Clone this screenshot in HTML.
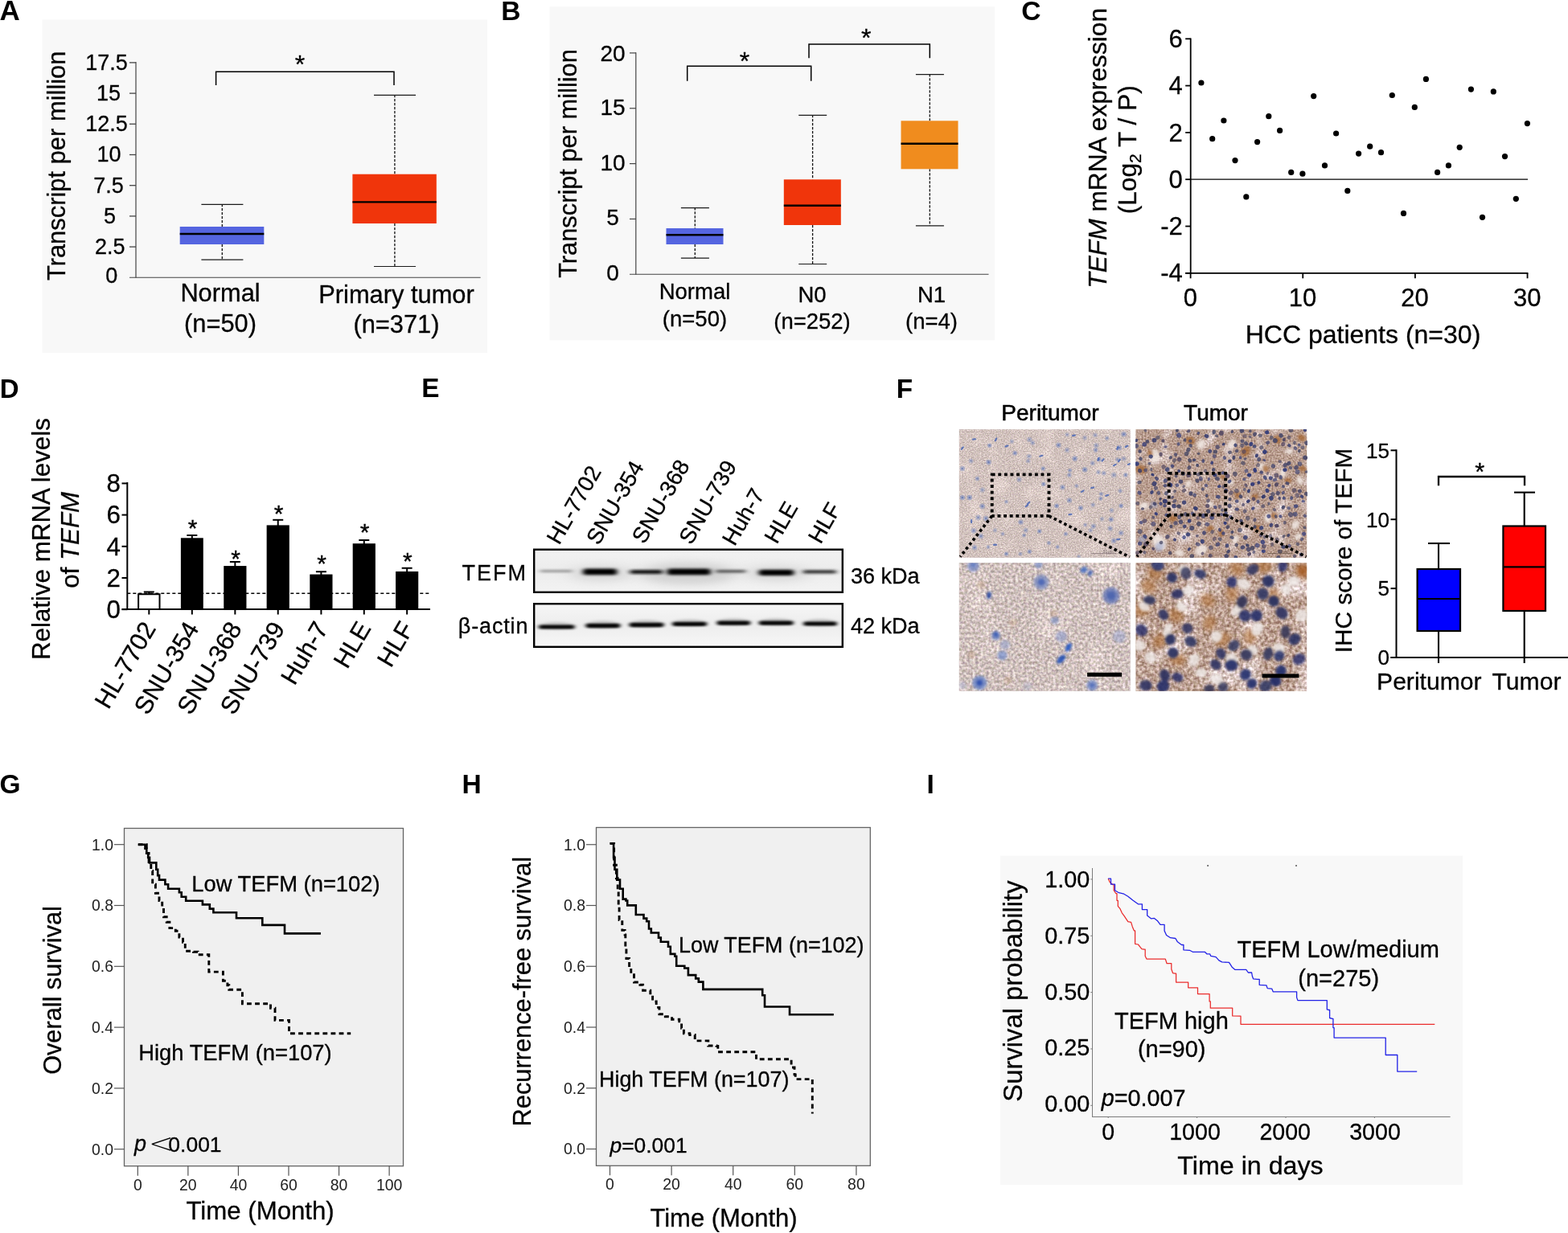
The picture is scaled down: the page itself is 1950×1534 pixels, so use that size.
<!DOCTYPE html>
<html lang="en"><head><meta charset="utf-8"><title>TEFM expression in HCC</title>
<style>
html,body{margin:0;padding:0;background:#fff;}
body{width:1950px;height:1534px;overflow:hidden;}
svg{display:block;font-family:"Liberation Sans", sans-serif;}
</style></head><body>
<svg width="1950" height="1534" viewBox="0 0 1950 1534">
<rect x="0" y="0" width="1950" height="1534" fill="#ffffff"/>
<text x="-0.5" y="24.7" font-size="35" text-anchor="start" font-weight="bold" font-style="normal" fill="#000">A</text>
<rect x="52.4" y="24.5" width="553.6" height="414.5" fill="#f8f8f8" stroke="none" stroke-width="1"/>
<line x1="169" y1="77" x2="169" y2="345.6" stroke="#444" stroke-width="1.2" stroke-linecap="butt"/>
<line x1="161" y1="345.3" x2="597.6" y2="345.3" stroke="#444" stroke-width="1.1" stroke-linecap="butt"/>
<text x="138.7" y="351.7" font-size="27" text-anchor="middle" font-weight="normal" font-style="normal" fill="#000" stroke="#000" stroke-width="0.3">0</text>
<line x1="161" y1="307.1" x2="169" y2="307.1" stroke="#444" stroke-width="1.3" stroke-linecap="butt"/>
<text x="136.7" y="315.8" font-size="27" text-anchor="middle" font-weight="normal" font-style="normal" fill="#000" stroke="#000" stroke-width="0.3">2.5</text>
<line x1="161" y1="268.9" x2="169" y2="268.9" stroke="#444" stroke-width="1.3" stroke-linecap="butt"/>
<text x="136.4" y="277.5" font-size="27" text-anchor="middle" font-weight="normal" font-style="normal" fill="#000" stroke="#000" stroke-width="0.3">5</text>
<line x1="161" y1="230.7" x2="169" y2="230.7" stroke="#444" stroke-width="1.3" stroke-linecap="butt"/>
<text x="135" y="240" font-size="27" text-anchor="middle" font-weight="normal" font-style="normal" fill="#000" stroke="#000" stroke-width="0.3">7.5</text>
<line x1="161" y1="192.5" x2="169" y2="192.5" stroke="#444" stroke-width="1.3" stroke-linecap="butt"/>
<text x="135.4" y="200.8" font-size="27" text-anchor="middle" font-weight="normal" font-style="normal" fill="#000" stroke="#000" stroke-width="0.3">10</text>
<line x1="161" y1="154.3" x2="169" y2="154.3" stroke="#444" stroke-width="1.3" stroke-linecap="butt"/>
<text x="132.5" y="162.5" font-size="27" text-anchor="middle" font-weight="normal" font-style="normal" fill="#000" stroke="#000" stroke-width="0.3">12.5</text>
<line x1="161" y1="116.1" x2="169" y2="116.1" stroke="#444" stroke-width="1.3" stroke-linecap="butt"/>
<text x="135" y="125" font-size="27" text-anchor="middle" font-weight="normal" font-style="normal" fill="#000" stroke="#000" stroke-width="0.3">15</text>
<line x1="161" y1="77.89999999999998" x2="169" y2="77.89999999999998" stroke="#444" stroke-width="1.3" stroke-linecap="butt"/>
<text x="132.6" y="86.7" font-size="27" text-anchor="middle" font-weight="normal" font-style="normal" fill="#000" stroke="#000" stroke-width="0.3">17.5</text>
<text x="81" y="206.3" font-size="30.9" text-anchor="middle" font-weight="normal" font-style="normal" fill="#000" transform="rotate(-90 81 206.3)" stroke="#000" stroke-width="0.3">Transcript per million</text>
<line x1="276.3" y1="254" x2="276.3" y2="282" stroke="#111" stroke-width="1.3" stroke-dasharray="3.2 1.8" stroke-linecap="butt"/>
<line x1="276.3" y1="304" x2="276.3" y2="323" stroke="#111" stroke-width="1.3" stroke-dasharray="3.2 1.8" stroke-linecap="butt"/>
<line x1="250.4" y1="254.3" x2="302.4" y2="254.3" stroke="#1a1a1a" stroke-width="1.2" stroke-linecap="butt"/>
<line x1="250.4" y1="323.2" x2="302.4" y2="323.2" stroke="#1a1a1a" stroke-width="1.2" stroke-linecap="butt"/>
<rect x="223.7" y="282" width="104.6" height="22" fill="#5565e0" stroke="none" stroke-width="1"/>
<line x1="223.7" y1="291" x2="328.3" y2="291" stroke="#000" stroke-width="2.4" stroke-linecap="butt"/>
<line x1="490.90000000000003" y1="118" x2="490.90000000000003" y2="216.7" stroke="#111" stroke-width="1.3" stroke-dasharray="3.2 1.8" stroke-linecap="butt"/>
<line x1="490.90000000000003" y1="278" x2="490.90000000000003" y2="331.3" stroke="#111" stroke-width="1.3" stroke-dasharray="3.2 1.8" stroke-linecap="butt"/>
<line x1="465.0" y1="118.3" x2="517.0" y2="118.3" stroke="#1a1a1a" stroke-width="1.2" stroke-linecap="butt"/>
<line x1="465.0" y1="331.5" x2="517.0" y2="331.5" stroke="#1a1a1a" stroke-width="1.2" stroke-linecap="butt"/>
<rect x="438.40000000000003" y="216.7" width="104.4" height="61.30000000000001" fill="#f0350b" stroke="none" stroke-width="1"/>
<line x1="438.40000000000003" y1="251.4" x2="542.8000000000001" y2="251.4" stroke="#000" stroke-width="2.4" stroke-linecap="butt"/>
<path d="M268.6 106 V89.3 H490 V106" fill="none" stroke="#000" stroke-width="1.5" stroke-linejoin="miter" stroke-linecap="butt"/>
<text x="373" y="91.3" font-size="32" text-anchor="middle" font-weight="normal" font-style="normal" fill="#000" stroke="#000" stroke-width="0.35">*</text>
<text x="274" y="375.2" font-size="30.8" text-anchor="middle" font-weight="normal" font-style="normal" fill="#000" stroke="#000" stroke-width="0.3">Normal</text>
<text x="274" y="412.6" font-size="30.8" text-anchor="middle" font-weight="normal" font-style="normal" fill="#000" stroke="#000" stroke-width="0.3">(n=50)</text>
<text x="493" y="376.9" font-size="30.8" text-anchor="middle" font-weight="normal" font-style="normal" fill="#000" stroke="#000" stroke-width="0.3">Primary tumor</text>
<text x="493" y="413.6" font-size="30.8" text-anchor="middle" font-weight="normal" font-style="normal" fill="#000" stroke="#000" stroke-width="0.3">(n=371)</text>
<text x="623.3" y="24.7" font-size="33.6" text-anchor="start" font-weight="bold" font-style="normal" fill="#000">B</text>
<rect x="683.5" y="8.3" width="553.5" height="415" fill="#f8f8f8" stroke="none" stroke-width="1"/>
<line x1="790.8" y1="65.3" x2="790.8" y2="341.8" stroke="#444" stroke-width="1.2" stroke-linecap="butt"/>
<line x1="783" y1="341.3" x2="1229.5" y2="341.3" stroke="#444" stroke-width="1.1" stroke-linecap="butt"/>
<text x="762" y="348.9" font-size="28" text-anchor="middle" font-weight="normal" font-style="normal" fill="#000" stroke="#000" stroke-width="0.3">0</text>
<line x1="783" y1="272.45000000000005" x2="791" y2="272.45000000000005" stroke="#444" stroke-width="1.2" stroke-linecap="butt"/>
<text x="762" y="280.3" font-size="28" text-anchor="middle" font-weight="normal" font-style="normal" fill="#000" stroke="#000" stroke-width="0.3">5</text>
<line x1="783" y1="203.60000000000002" x2="791" y2="203.60000000000002" stroke="#444" stroke-width="1.2" stroke-linecap="butt"/>
<text x="762" y="211.5" font-size="28" text-anchor="middle" font-weight="normal" font-style="normal" fill="#000" stroke="#000" stroke-width="0.3">10</text>
<line x1="783" y1="134.75000000000003" x2="791" y2="134.75000000000003" stroke="#444" stroke-width="1.2" stroke-linecap="butt"/>
<text x="762" y="143.3" font-size="28" text-anchor="middle" font-weight="normal" font-style="normal" fill="#000" stroke="#000" stroke-width="0.3">15</text>
<line x1="783" y1="65.90000000000003" x2="791" y2="65.90000000000003" stroke="#444" stroke-width="1.2" stroke-linecap="butt"/>
<text x="762" y="75.8" font-size="28" text-anchor="middle" font-weight="normal" font-style="normal" fill="#000" stroke="#000" stroke-width="0.3">20</text>
<text x="717" y="203.5" font-size="30.8" text-anchor="middle" font-weight="normal" font-style="normal" fill="#000" transform="rotate(-90 717 203.5)" stroke="#000" stroke-width="0.3">Transcript per million</text>
<line x1="864.3" y1="258.3" x2="864.3" y2="284" stroke="#111" stroke-width="1.3" stroke-dasharray="3.2 1.8" stroke-linecap="butt"/>
<line x1="864.3" y1="304" x2="864.3" y2="321" stroke="#111" stroke-width="1.3" stroke-dasharray="3.2 1.8" stroke-linecap="butt"/>
<line x1="846.9" y1="258.6" x2="881.9" y2="258.6" stroke="#1a1a1a" stroke-width="1.2" stroke-linecap="butt"/>
<line x1="846.9" y1="321.2" x2="881.9" y2="321.2" stroke="#1a1a1a" stroke-width="1.2" stroke-linecap="butt"/>
<rect x="828.5" y="284" width="71.0" height="20" fill="#5565e0" stroke="none" stroke-width="1"/>
<line x1="828.5" y1="292.3" x2="899.5" y2="292.3" stroke="#000" stroke-width="2.4" stroke-linecap="butt"/>
<line x1="1010.5999999999999" y1="143" x2="1010.5999999999999" y2="223.3" stroke="#111" stroke-width="1.3" stroke-dasharray="3.2 1.8" stroke-linecap="butt"/>
<line x1="1010.5999999999999" y1="280" x2="1010.5999999999999" y2="328.3" stroke="#111" stroke-width="1.3" stroke-dasharray="3.2 1.8" stroke-linecap="butt"/>
<line x1="993.1999999999999" y1="143.3" x2="1028.2" y2="143.3" stroke="#1a1a1a" stroke-width="1.2" stroke-linecap="butt"/>
<line x1="993.1999999999999" y1="328.5" x2="1028.2" y2="328.5" stroke="#1a1a1a" stroke-width="1.2" stroke-linecap="butt"/>
<rect x="974.8" y="223.3" width="71.0" height="56.69999999999999" fill="#f0350b" stroke="none" stroke-width="1"/>
<line x1="974.8" y1="255.7" x2="1045.8" y2="255.7" stroke="#000" stroke-width="2.4" stroke-linecap="butt"/>
<line x1="1156.3" y1="92.3" x2="1156.3" y2="150.3" stroke="#111" stroke-width="1.3" stroke-dasharray="3.2 1.8" stroke-linecap="butt"/>
<line x1="1156.3" y1="210.3" x2="1156.3" y2="280.7" stroke="#111" stroke-width="1.3" stroke-dasharray="3.2 1.8" stroke-linecap="butt"/>
<line x1="1138.9" y1="92.6" x2="1173.9" y2="92.6" stroke="#1a1a1a" stroke-width="1.2" stroke-linecap="butt"/>
<line x1="1138.9" y1="280.9" x2="1173.9" y2="280.9" stroke="#1a1a1a" stroke-width="1.2" stroke-linecap="butt"/>
<rect x="1120.5" y="150.3" width="71.0" height="60.0" fill="#f08c1e" stroke="none" stroke-width="1"/>
<line x1="1120.5" y1="178.7" x2="1191.5" y2="178.7" stroke="#000" stroke-width="2.4" stroke-linecap="butt"/>
<path d="M854.7 100.7 V82.3 H1008.7 V100.7" fill="none" stroke="#000" stroke-width="1.5" stroke-linejoin="miter" stroke-linecap="butt"/>
<text x="926" y="86.5" font-size="32" text-anchor="middle" font-weight="normal" font-style="normal" fill="#000" stroke="#000" stroke-width="0.35">*</text>
<path d="M1006 72.3 V55 H1156.3 V72.3" fill="none" stroke="#000" stroke-width="1.5" stroke-linejoin="miter" stroke-linecap="butt"/>
<text x="1077.3" y="57.6" font-size="32" text-anchor="middle" font-weight="normal" font-style="normal" fill="#000" stroke="#000" stroke-width="0.35">*</text>
<text x="864" y="371.5" font-size="27.5" text-anchor="middle" font-weight="normal" font-style="normal" fill="#000" stroke="#000" stroke-width="0.3">Normal</text>
<text x="864" y="406" font-size="27.5" text-anchor="middle" font-weight="normal" font-style="normal" fill="#000" stroke="#000" stroke-width="0.3">(n=50)</text>
<text x="1010" y="376" font-size="27.5" text-anchor="middle" font-weight="normal" font-style="normal" fill="#000" stroke="#000" stroke-width="0.3">N0</text>
<text x="1010" y="409" font-size="27.5" text-anchor="middle" font-weight="normal" font-style="normal" fill="#000" stroke="#000" stroke-width="0.3">(n=252)</text>
<text x="1158.5" y="376" font-size="27.5" text-anchor="middle" font-weight="normal" font-style="normal" fill="#000" stroke="#000" stroke-width="0.3">N1</text>
<text x="1158.5" y="409" font-size="27.5" text-anchor="middle" font-weight="normal" font-style="normal" fill="#000" stroke="#000" stroke-width="0.3">(n=4)</text>
<text x="1270.3" y="24.7" font-size="33.6" text-anchor="start" font-weight="bold" font-style="normal" fill="#000">C</text>
<line x1="1480.7" y1="47.4" x2="1480.7" y2="340.7" stroke="#000" stroke-width="1.8" stroke-linecap="butt"/>
<line x1="1474.2" y1="339.8" x2="1900.4" y2="339.8" stroke="#000" stroke-width="1.8" stroke-linecap="butt"/>
<line x1="1474.2" y1="339.8" x2="1480.7" y2="339.8" stroke="#000" stroke-width="1.8" stroke-linecap="butt"/>
<text x="1470.8" y="350.40000000000003" font-size="31" text-anchor="end" font-weight="normal" font-style="normal" fill="#000" stroke="#000" stroke-width="0.3">-4</text>
<line x1="1474.2" y1="281.5" x2="1480.7" y2="281.5" stroke="#000" stroke-width="1.8" stroke-linecap="butt"/>
<text x="1470.8" y="292.1" font-size="31" text-anchor="end" font-weight="normal" font-style="normal" fill="#000" stroke="#000" stroke-width="0.3">-2</text>
<line x1="1474.2" y1="223.20000000000002" x2="1480.7" y2="223.20000000000002" stroke="#000" stroke-width="1.8" stroke-linecap="butt"/>
<text x="1470.8" y="233.8" font-size="31" text-anchor="end" font-weight="normal" font-style="normal" fill="#000" stroke="#000" stroke-width="0.3">0</text>
<line x1="1474.2" y1="164.90000000000003" x2="1480.7" y2="164.90000000000003" stroke="#000" stroke-width="1.8" stroke-linecap="butt"/>
<text x="1470.8" y="175.50000000000003" font-size="31" text-anchor="end" font-weight="normal" font-style="normal" fill="#000" stroke="#000" stroke-width="0.3">2</text>
<line x1="1474.2" y1="106.60000000000002" x2="1480.7" y2="106.60000000000002" stroke="#000" stroke-width="1.8" stroke-linecap="butt"/>
<text x="1470.8" y="117.20000000000002" font-size="31" text-anchor="end" font-weight="normal" font-style="normal" fill="#000" stroke="#000" stroke-width="0.3">4</text>
<line x1="1474.2" y1="48.30000000000001" x2="1480.7" y2="48.30000000000001" stroke="#000" stroke-width="1.8" stroke-linecap="butt"/>
<text x="1470.8" y="58.90000000000001" font-size="31" text-anchor="end" font-weight="normal" font-style="normal" fill="#000" stroke="#000" stroke-width="0.3">6</text>
<line x1="1480.5" y1="223.2" x2="1900" y2="223.2" stroke="#000" stroke-width="1.3" stroke-linecap="butt"/>
<line x1="1480.6" y1="339.8" x2="1480.6" y2="346.3" stroke="#000" stroke-width="1.8" stroke-linecap="butt"/>
<text x="1480.3" y="380.8" font-size="31" text-anchor="middle" font-weight="normal" font-style="normal" fill="#000" stroke="#000" stroke-width="0.3">0</text>
<line x1="1620.25" y1="339.8" x2="1620.25" y2="346.3" stroke="#000" stroke-width="1.8" stroke-linecap="butt"/>
<text x="1619.95" y="380.8" font-size="31" text-anchor="middle" font-weight="normal" font-style="normal" fill="#000" stroke="#000" stroke-width="0.3">10</text>
<line x1="1759.8999999999999" y1="339.8" x2="1759.8999999999999" y2="346.3" stroke="#000" stroke-width="1.8" stroke-linecap="butt"/>
<text x="1759.6" y="380.8" font-size="31" text-anchor="middle" font-weight="normal" font-style="normal" fill="#000" stroke="#000" stroke-width="0.3">20</text>
<line x1="1899.55" y1="339.8" x2="1899.55" y2="346.3" stroke="#000" stroke-width="1.8" stroke-linecap="butt"/>
<text x="1899.25" y="380.8" font-size="31" text-anchor="middle" font-weight="normal" font-style="normal" fill="#000" stroke="#000" stroke-width="0.3">30</text>
<text x="1695" y="427" font-size="32" text-anchor="middle" font-weight="normal" font-style="normal" fill="#000" stroke="#000" stroke-width="0.3">HCC patients (n=30)</text>
<text x="1375.8" y="184.3" font-size="31.7" stroke="#000" stroke-width="0.3" text-anchor="middle" transform="rotate(-90 1375.8 184.3)"><tspan font-style="italic">TEFM</tspan> mRNA expression</text>
<text x="1412.8" y="186.2" font-size="31.7" stroke="#000" stroke-width="0.3" text-anchor="middle" transform="rotate(-90 1412.8 186.2)">(Log<tspan font-size="21" dy="6">2</tspan><tspan dy="-6"> T / P)</tspan></text>
<circle cx="1493.9" cy="103.0" r="3.6" fill="#000"/>
<circle cx="1507.7" cy="172.7" r="3.6" fill="#000"/>
<circle cx="1521.9" cy="150.0" r="3.6" fill="#000"/>
<circle cx="1536.0" cy="199.6" r="3.6" fill="#000"/>
<circle cx="1549.8" cy="244.9" r="3.6" fill="#000"/>
<circle cx="1563.6" cy="176.6" r="3.6" fill="#000"/>
<circle cx="1577.8" cy="144.7" r="3.6" fill="#000"/>
<circle cx="1591.6" cy="162.4" r="3.6" fill="#000"/>
<circle cx="1605.7" cy="214.4" r="3.6" fill="#000"/>
<circle cx="1619.9" cy="216.2" r="3.6" fill="#000"/>
<circle cx="1633.7" cy="119.6" r="3.6" fill="#000"/>
<circle cx="1647.5" cy="205.9" r="3.6" fill="#000"/>
<circle cx="1661.6" cy="166.0" r="3.6" fill="#000"/>
<circle cx="1675.8" cy="237.4" r="3.6" fill="#000"/>
<circle cx="1689.6" cy="191.1" r="3.6" fill="#000"/>
<circle cx="1703.7" cy="182.2" r="3.6" fill="#000"/>
<circle cx="1717.5" cy="189.7" r="3.6" fill="#000"/>
<circle cx="1731.3" cy="118.5" r="3.6" fill="#000"/>
<circle cx="1745.5" cy="265.4" r="3.6" fill="#000"/>
<circle cx="1759.3" cy="133.4" r="3.6" fill="#000"/>
<circle cx="1773.4" cy="98.4" r="3.6" fill="#000"/>
<circle cx="1787.6" cy="214.4" r="3.6" fill="#000"/>
<circle cx="1801.4" cy="205.9" r="3.6" fill="#000"/>
<circle cx="1815.2" cy="183.3" r="3.6" fill="#000"/>
<circle cx="1829.4" cy="111.1" r="3.6" fill="#000"/>
<circle cx="1843.5" cy="270.3" r="3.6" fill="#000"/>
<circle cx="1857.3" cy="113.9" r="3.6" fill="#000"/>
<circle cx="1871.5" cy="194.6" r="3.6" fill="#000"/>
<circle cx="1885.3" cy="247.3" r="3.6" fill="#000"/>
<circle cx="1899.4" cy="153.6" r="3.6" fill="#000"/>
<text x="-0.2" y="495" font-size="33" text-anchor="start" font-weight="bold" font-style="normal" fill="#000">D</text>
<line x1="158.3" y1="600" x2="158.3" y2="759" stroke="#000" stroke-width="2" stroke-linecap="butt"/>
<line x1="151.5" y1="758" x2="535" y2="758" stroke="#000" stroke-width="2" stroke-linecap="butt"/>
<line x1="151.5" y1="758.2" x2="158.3" y2="758.2" stroke="#000" stroke-width="2" stroke-linecap="butt"/>
<text x="150" y="769.0" font-size="31.3" text-anchor="end" font-weight="normal" font-style="normal" fill="#000" stroke="#000" stroke-width="0.3">0</text>
<line x1="151.5" y1="719.0" x2="158.3" y2="719.0" stroke="#000" stroke-width="2" stroke-linecap="butt"/>
<text x="150" y="729.8" font-size="31.3" text-anchor="end" font-weight="normal" font-style="normal" fill="#000" stroke="#000" stroke-width="0.3">2</text>
<line x1="151.5" y1="679.8000000000001" x2="158.3" y2="679.8000000000001" stroke="#000" stroke-width="2" stroke-linecap="butt"/>
<text x="150" y="690.6" font-size="31.3" text-anchor="end" font-weight="normal" font-style="normal" fill="#000" stroke="#000" stroke-width="0.3">4</text>
<line x1="151.5" y1="640.6" x2="158.3" y2="640.6" stroke="#000" stroke-width="2" stroke-linecap="butt"/>
<text x="150" y="651.4" font-size="31.3" text-anchor="end" font-weight="normal" font-style="normal" fill="#000" stroke="#000" stroke-width="0.3">6</text>
<line x1="151.5" y1="601.4000000000001" x2="158.3" y2="601.4000000000001" stroke="#000" stroke-width="2" stroke-linecap="butt"/>
<text x="150" y="612.2" font-size="31.3" text-anchor="end" font-weight="normal" font-style="normal" fill="#000" stroke="#000" stroke-width="0.3">8</text>
<text x="62.2" y="670.6" font-size="31.3" text-anchor="middle" font-weight="normal" font-style="normal" fill="#000" transform="rotate(-90 62.2 670.6)" stroke="#000" stroke-width="0.3">Relative mRNA levels</text>
<text x="98.2" y="671.8" font-size="31.3" stroke="#000" stroke-width="0.3" text-anchor="middle" transform="rotate(-90 98.2 671.8)">of <tspan font-style="italic">TEFM</tspan></text>
<line x1="158.3" y1="738.2608695652174" x2="535" y2="738.2608695652174" stroke="#000" stroke-width="1.3" stroke-dasharray="4 3" stroke-linecap="butt"/>
<line x1="185.30734632683658" y1="736.4617691154423" x2="185.30734632683658" y2="739.2608695652174" stroke="#000" stroke-width="2" stroke-linecap="butt"/>
<line x1="178.80734632683658" y1="736.4617691154423" x2="191.80734632683658" y2="736.4617691154423" stroke="#000" stroke-width="2" stroke-linecap="butt"/>
<rect x="172.11409295352325" y="739.2608695652174" width="26.386506746626672" height="18.739130434782624" fill="#fff" stroke="#000" stroke-width="2"/>
<line x1="185.30734632683658" y1="758" x2="185.30734632683658" y2="764.5" stroke="#000" stroke-width="2" stroke-linecap="butt"/>
<text x="194.80734632683658" y="781.6" font-size="30.9" text-anchor="end" font-weight="normal" font-style="normal" fill="#000" transform="rotate(-59.5 194.80734632683658 781.6)" stroke="#000" stroke-width="0.3">HL-7702</text>
<line x1="238.83058470764618" y1="665.9970014992504" x2="238.83058470764618" y2="670.2953523238381" stroke="#000" stroke-width="2" stroke-linecap="butt"/>
<line x1="232.33058470764618" y1="665.9970014992504" x2="245.33058470764618" y2="665.9970014992504" stroke="#000" stroke-width="2" stroke-linecap="butt"/>
<rect x="224.88755622188907" y="669.2953523238381" width="27.886056971514222" height="88.70464767616193" fill="#000" stroke="none" stroke-width="1"/>
<text x="239.6305847076462" y="667.1999999999999" font-size="30" text-anchor="middle" font-weight="normal" font-style="normal" fill="#000" stroke="#000" stroke-width="0.35">*</text>
<line x1="238.83058470764618" y1="758" x2="238.83058470764618" y2="764.5" stroke="#000" stroke-width="2" stroke-linecap="butt"/>
<text x="248.33058470764618" y="781.6" font-size="30.9" text-anchor="end" font-weight="normal" font-style="normal" fill="#000" transform="rotate(-59.5 248.33058470764618 781.6)" stroke="#000" stroke-width="0.3">SNU-354</text>
<line x1="292.3538230884558" y1="698.9805097451274" x2="292.3538230884558" y2="705.0779610194902" stroke="#000" stroke-width="2" stroke-linecap="butt"/>
<line x1="285.8538230884558" y1="698.9805097451274" x2="298.8538230884558" y2="698.9805097451274" stroke="#000" stroke-width="2" stroke-linecap="butt"/>
<rect x="278.2608695652174" y="704.0779610194902" width="28.185907046476757" height="53.9220389805098" fill="#000" stroke="none" stroke-width="1"/>
<text x="293.1538230884558" y="704.6999999999999" font-size="30" text-anchor="middle" font-weight="normal" font-style="normal" fill="#000" stroke="#000" stroke-width="0.35">*</text>
<line x1="292.3538230884558" y1="758" x2="292.3538230884558" y2="764.5" stroke="#000" stroke-width="2" stroke-linecap="butt"/>
<text x="301.8538230884558" y="781.6" font-size="30.9" text-anchor="end" font-weight="normal" font-style="normal" fill="#000" transform="rotate(-59.5 301.8538230884558 781.6)" stroke="#000" stroke-width="0.3">SNU-368</text>
<line x1="345.72713643178406" y1="646.8065967016491" x2="345.72713643178406" y2="654.4032983508246" stroke="#000" stroke-width="2" stroke-linecap="butt"/>
<line x1="339.22713643178406" y1="646.8065967016491" x2="352.22713643178406" y2="646.8065967016491" stroke="#000" stroke-width="2" stroke-linecap="butt"/>
<rect x="331.6341829085457" y="653.4032983508246" width="28.185907046476757" height="104.59670164917543" fill="#000" stroke="none" stroke-width="1"/>
<text x="346.5271364317841" y="648.9" font-size="30" text-anchor="middle" font-weight="normal" font-style="normal" fill="#000" stroke="#000" stroke-width="0.35">*</text>
<line x1="345.72713643178406" y1="758" x2="345.72713643178406" y2="764.5" stroke="#000" stroke-width="2" stroke-linecap="butt"/>
<text x="355.22713643178406" y="781.6" font-size="30.9" text-anchor="end" font-weight="normal" font-style="normal" fill="#000" transform="rotate(-59.5 355.22713643178406 781.6)" stroke="#000" stroke-width="0.3">SNU-739</text>
<line x1="399.40029985007493" y1="711.2743628185907" x2="399.40029985007493" y2="715.5727136431784" stroke="#000" stroke-width="2" stroke-linecap="butt"/>
<line x1="392.90029985007493" y1="711.2743628185907" x2="405.90029985007493" y2="711.2743628185907" stroke="#000" stroke-width="2" stroke-linecap="butt"/>
<rect x="385.3073463268366" y="714.5727136431784" width="28.185907046476757" height="43.42728635682158" fill="#000" stroke="none" stroke-width="1"/>
<text x="400.20029985007494" y="711.3" font-size="30" text-anchor="middle" font-weight="normal" font-style="normal" fill="#000" stroke="#000" stroke-width="0.35">*</text>
<line x1="399.40029985007493" y1="758" x2="399.40029985007493" y2="764.5" stroke="#000" stroke-width="2" stroke-linecap="butt"/>
<text x="408.90029985007493" y="781.6" font-size="30.9" text-anchor="end" font-weight="normal" font-style="normal" fill="#000" transform="rotate(-59.5 408.90029985007493 781.6)" stroke="#000" stroke-width="0.3">Huh-7</text>
<line x1="452.7736131934033" y1="671.9940029985007" x2="452.7736131934033" y2="677.191904047976" stroke="#000" stroke-width="2" stroke-linecap="butt"/>
<line x1="446.2736131934033" y1="671.9940029985007" x2="459.2736131934033" y2="671.9940029985007" stroke="#000" stroke-width="2" stroke-linecap="butt"/>
<rect x="438.6806596701649" y="676.191904047976" width="28.185907046476757" height="81.80809595202402" fill="#000" stroke="none" stroke-width="1"/>
<text x="453.57361319340333" y="672.3" font-size="30" text-anchor="middle" font-weight="normal" font-style="normal" fill="#000" stroke="#000" stroke-width="0.35">*</text>
<line x1="452.7736131934033" y1="758" x2="452.7736131934033" y2="764.5" stroke="#000" stroke-width="2" stroke-linecap="butt"/>
<text x="462.2736131934033" y="781.6" font-size="30.9" text-anchor="end" font-weight="normal" font-style="normal" fill="#000" transform="rotate(-59.5 462.2736131934033 781.6)" stroke="#000" stroke-width="0.3">HLE</text>
<line x1="506.1469265367316" y1="706.776611694153" x2="506.1469265367316" y2="711.9745127436282" stroke="#000" stroke-width="2" stroke-linecap="butt"/>
<line x1="499.6469265367316" y1="706.776611694153" x2="512.6469265367316" y2="706.776611694153" stroke="#000" stroke-width="2" stroke-linecap="butt"/>
<rect x="492.05397301349325" y="710.9745127436282" width="28.185907046476757" height="47.025487256371775" fill="#000" stroke="none" stroke-width="1"/>
<text x="506.9469265367316" y="707.6999999999999" font-size="30" text-anchor="middle" font-weight="normal" font-style="normal" fill="#000" stroke="#000" stroke-width="0.35">*</text>
<line x1="506.1469265367316" y1="758" x2="506.1469265367316" y2="764.5" stroke="#000" stroke-width="2" stroke-linecap="butt"/>
<text x="515.6469265367316" y="781.6" font-size="30.9" text-anchor="end" font-weight="normal" font-style="normal" fill="#000" transform="rotate(-59.5 515.6469265367316 781.6)" stroke="#000" stroke-width="0.3">HLF</text>
<text x="524.3" y="494" font-size="33.3" text-anchor="start" font-weight="bold" font-style="normal" fill="#000">E</text>
<defs>
<filter id="bl1" x="-30%" y="-200%" width="160%" height="500%"><feGaussianBlur stdDeviation="3.2 1.5"/></filter>
<filter id="bl2" x="-30%" y="-200%" width="160%" height="500%"><feGaussianBlur stdDeviation="2.6 1.1"/></filter>
<filter id="bl3" x="-30%" y="-100%" width="160%" height="300%"><feGaussianBlur stdDeviation="9 5"/></filter>
<linearGradient id="blotbg" x1="0" y1="0" x2="0" y2="1"><stop offset="0" stop-color="#f2f2f2"/><stop offset="0.5" stop-color="#ececec"/><stop offset="1" stop-color="#f3f3f3"/></linearGradient>
<linearGradient id="blotbg2" x1="0" y1="0" x2="0" y2="1"><stop offset="0" stop-color="#f6f6f6"/><stop offset="0.5" stop-color="#ededed"/><stop offset="1" stop-color="#f7f7f7"/></linearGradient>
<clipPath id="clipb1"><rect x="664" y="683.5" width="384" height="53.5"/></clipPath>
<clipPath id="clipb2"><rect x="664" y="751" width="384" height="54"/></clipPath>
</defs>
<rect x="664" y="683.5" width="384" height="53.5" fill="url(#blotbg)" stroke="none" stroke-width="1"/>
<g clip-path="url(#clipb1)">
<ellipse cx="855.4" cy="713.8" rx="60" ry="14" fill="#bdbdbd" opacity="0.55" filter="url(#bl3)"/>
<ellipse cx="747.7" cy="713.8" rx="40" ry="10" fill="#c8c8c8" opacity="0.5" filter="url(#bl3)"/>
<ellipse cx="966.2" cy="713.8" rx="40" ry="10" fill="#c8c8c8" opacity="0.5" filter="url(#bl3)"/>
<rect x="671.5" y="709.0" width="40.2" height="2.9" rx="1.5" fill="#777" opacity="0.75" filter="url(#bl1)"/>
<rect x="724.8" y="707.4" width="42.6" height="7.9" rx="3.9" fill="#000" opacity="1" filter="url(#bl1)"/>
<rect x="783.2" y="708.9" width="41.0" height="5.0" rx="2.5" fill="#111" opacity="0.97" filter="url(#bl1)"/>
<rect x="829.5" y="707.4" width="54.3" height="7.9" rx="3.9" fill="#000" opacity="1" filter="url(#bl1)"/>
<rect x="889.8" y="709.0" width="37.9" height="3.5" rx="1.8" fill="#444" opacity="0.9" filter="url(#bl1)"/>
<rect x="943.4" y="708.7" width="44.0" height="7.3" rx="3.7" fill="#000" opacity="1" filter="url(#bl1)"/>
<rect x="998.6" y="709.2" width="41.5" height="4.4" rx="2.2" fill="#222" opacity="0.92" filter="url(#bl1)"/>
</g>
<rect x="664.2" y="683.7" width="383.6" height="53.1" fill="none" stroke="#000" stroke-width="2.4"/>
<rect x="664" y="751" width="384" height="54" fill="url(#blotbg2)" stroke="none" stroke-width="1"/>
<g clip-path="url(#clipb2)">
<ellipse cx="692.3" cy="778.5" rx="22.8" ry="4.4" fill="#999" opacity="0.5" filter="url(#bl1)"/>
<rect x="670.2" y="777.4" width="44.2" height="5.2" rx="2.6" fill="#050505" opacity="0.97" filter="url(#bl2)"/>
<ellipse cx="749.8" cy="777.0" rx="21.9" ry="4.7" fill="#999" opacity="0.5" filter="url(#bl1)"/>
<rect x="728.6" y="775.7" width="42.5" height="5.6" rx="2.8" fill="#050505" opacity="0.97" filter="url(#bl2)"/>
<ellipse cx="804.0" cy="776.0" rx="21.9" ry="4.7" fill="#999" opacity="0.5" filter="url(#bl1)"/>
<rect x="782.8" y="774.7" width="42.5" height="5.6" rx="2.8" fill="#050505" opacity="0.97" filter="url(#bl2)"/>
<ellipse cx="857.5" cy="774.8" rx="21.9" ry="4.4" fill="#999" opacity="0.5" filter="url(#bl1)"/>
<rect x="836.3" y="773.7" width="42.5" height="5.2" rx="2.6" fill="#050505" opacity="0.97" filter="url(#bl2)"/>
<ellipse cx="912.3" cy="773.6" rx="21.3" ry="4.4" fill="#999" opacity="0.5" filter="url(#bl1)"/>
<rect x="891.6" y="772.5" width="41.3" height="5.2" rx="2.6" fill="#050505" opacity="0.97" filter="url(#bl2)"/>
<ellipse cx="965.2" cy="773.6" rx="21.9" ry="4.4" fill="#999" opacity="0.5" filter="url(#bl1)"/>
<rect x="944.0" y="772.5" width="42.5" height="5.2" rx="2.6" fill="#050505" opacity="0.97" filter="url(#bl2)"/>
<ellipse cx="1020.0" cy="774.5" rx="21.3" ry="4.4" fill="#999" opacity="0.5" filter="url(#bl1)"/>
<rect x="999.3" y="773.4" width="41.3" height="5.2" rx="2.6" fill="#050505" opacity="0.97" filter="url(#bl2)"/>
</g>
<rect x="664.2" y="751.2" width="383.6" height="53.6" fill="none" stroke="#000" stroke-width="2.4"/>
<text x="574.4" y="721.5" font-size="27" text-anchor="start" font-weight="normal" font-style="normal" fill="#000" letter-spacing="2.0" stroke="#000" stroke-width="0.3">TEFM</text>
<text x="569.8" y="787.9" font-size="27" text-anchor="start" font-weight="normal" font-style="normal" fill="#000" letter-spacing="0.85" stroke="#000" stroke-width="0.3">β-actin</text>
<text x="1058" y="725.5" font-size="27" text-anchor="start" font-weight="normal" font-style="normal" fill="#000" letter-spacing="0" stroke="#000" stroke-width="0.3">36 kDa</text>
<text x="1058" y="787.7" font-size="27" text-anchor="start" font-weight="normal" font-style="normal" fill="#000" letter-spacing="0" stroke="#000" stroke-width="0.3">42 kDa</text>
<text x="695.2" y="678.9" font-size="27.8" text-anchor="start" font-weight="normal" font-style="normal" fill="#000" transform="rotate(-60 695.2 678.9)" stroke="#000" stroke-width="0.3">HL-7702</text>
<text x="744.4" y="679.5" font-size="27.8" text-anchor="start" font-weight="normal" font-style="normal" fill="#000" transform="rotate(-60 744.4 679.5)" stroke="#000" stroke-width="0.3">SNU-354</text>
<text x="801.3" y="678.0" font-size="27.8" text-anchor="start" font-weight="normal" font-style="normal" fill="#000" transform="rotate(-60 801.3 678.0)" stroke="#000" stroke-width="0.3">SNU-368</text>
<text x="859.8" y="678.9" font-size="27.8" text-anchor="start" font-weight="normal" font-style="normal" fill="#000" transform="rotate(-60 859.8 678.9)" stroke="#000" stroke-width="0.3">SNU-739</text>
<text x="913.6" y="680.4" font-size="27.8" text-anchor="start" font-weight="normal" font-style="normal" fill="#000" transform="rotate(-60 913.6 680.4)" stroke="#000" stroke-width="0.3">Huh-7</text>
<text x="966.0" y="678.0" font-size="27.8" text-anchor="start" font-weight="normal" font-style="normal" fill="#000" transform="rotate(-60 966.0 678.0)" stroke="#000" stroke-width="0.3">HLE</text>
<text x="1020.4" y="678.0" font-size="27.8" text-anchor="start" font-weight="normal" font-style="normal" fill="#000" transform="rotate(-60 1020.4 678.0)" stroke="#000" stroke-width="0.3">HLF</text>
<text x="1114.8" y="494.6" font-size="33.3" text-anchor="start" font-weight="bold" font-style="normal" fill="#000">F</text>
<text x="1306" y="523" font-size="28" text-anchor="middle" font-weight="normal" font-style="normal" fill="#000" stroke="#000" stroke-width="0.55">Peritumor</text>
<text x="1512" y="523" font-size="28" text-anchor="middle" font-weight="normal" font-style="normal" fill="#000" stroke="#000" stroke-width="0.55">Tumor</text>
<defs>
<filter id="grP1" x="0" y="0" width="100%" height="100%" color-interpolation-filters="sRGB">
 <feTurbulence type="fractalNoise" baseFrequency="0.62" numOctaves="2" seed="11" result="n"/>
 <feColorMatrix in="n" type="matrix" values="0.420 0.000 0.000 0.000 0.612  0.420 0.100 0.000 0.000 0.500  0.420 0.000 0.100 0.000 0.482  0 0 0 0 1" result="c"/>
 <feTurbulence type="fractalNoise" baseFrequency="0.035" numOctaves="2" seed="5" result="lo"/>
 <feColorMatrix in="lo" type="matrix" values="0.220 0 0 0 -0.110  0.220 0 0 0 -0.110  0.220 0 0 0 -0.110  0 0 0 0 1" result="lo2"/>
 <feComposite in="c" in2="lo2" operator="arithmetic" k1="0" k2="1" k3="1" k4="0"/>
</filter>
<filter id="grP2" x="0" y="0" width="100%" height="100%" color-interpolation-filters="sRGB">
 <feTurbulence type="fractalNoise" baseFrequency="0.3" numOctaves="2" seed="23" result="n"/>
 <feColorMatrix in="n" type="matrix" values="0.550 0.000 0.000 0.000 0.540  0.550 0.120 0.000 0.000 0.422  0.550 0.000 0.120 0.000 0.408  0 0 0 0 1" result="c"/>
 <feTurbulence type="fractalNoise" baseFrequency="0.02" numOctaves="2" seed="9" result="lo"/>
 <feColorMatrix in="lo" type="matrix" values="0.220 0 0 0 -0.110  0.220 0 0 0 -0.110  0.220 0 0 0 -0.110  0 0 0 0 1" result="lo2"/>
 <feComposite in="c" in2="lo2" operator="arithmetic" k1="0" k2="1" k3="1" k4="0"/>
</filter>
<filter id="grT1" x="0" y="0" width="100%" height="100%" color-interpolation-filters="sRGB">
 <feTurbulence type="fractalNoise" baseFrequency="0.5" numOctaves="2" seed="31" result="n"/>
 <feColorMatrix in="n" type="matrix" values="0.550 0.000 0.000 0.000 0.447  0.600 0.080 0.000 0.000 0.272  0.650 0.000 0.080 0.000 0.192  0 0 0 0 1" result="c"/>
 <feTurbulence type="fractalNoise" baseFrequency="0.05" numOctaves="2" seed="14" result="lo"/>
 <feColorMatrix in="lo" type="matrix" values="0.500 0 0 0 -0.250  0.650 0 0 0 -0.325  0.800 0 0 0 -0.400  0 0 0 0 1" result="lo2"/>
 <feComposite in="c" in2="lo2" operator="arithmetic" k1="0" k2="1" k3="1" k4="0"/>
</filter>
<filter id="grT2" x="0" y="0" width="100%" height="100%" color-interpolation-filters="sRGB">
 <feTurbulence type="fractalNoise" baseFrequency="0.26" numOctaves="2" seed="41" result="n"/>
 <feColorMatrix in="n" type="matrix" values="0.650 0.000 0.000 0.000 0.413  0.720 0.080 0.000 0.000 0.228  0.800 0.000 0.080 0.000 0.133  0 0 0 0 1" result="c"/>
 <feTurbulence type="fractalNoise" baseFrequency="0.028" numOctaves="2" seed="17" result="lo"/>
 <feColorMatrix in="lo" type="matrix" values="0.500 0 0 0 -0.250  0.650 0 0 0 -0.325  0.800 0 0 0 -0.400  0 0 0 0 1" result="lo2"/>
 <feComposite in="c" in2="lo2" operator="arithmetic" k1="0" k2="1" k3="1" k4="0"/>
</filter>
<filter id="sb1" x="-50%" y="-50%" width="200%" height="200%"><feGaussianBlur stdDeviation="0.55"/></filter>
<filter id="sb2" x="-50%" y="-50%" width="200%" height="200%"><feGaussianBlur stdDeviation="1.5"/></filter>
<filter id="sb3" x="-50%" y="-50%" width="200%" height="200%"><feGaussianBlur stdDeviation="3"/></filter>
<clipPath id="cTL"><rect x="1192.8" y="534.3" width="212.9" height="159.5"/></clipPath>
<clipPath id="cTR"><rect x="1412.5" y="534.3" width="212.7" height="159.5"/></clipPath>
<clipPath id="cBL"><rect x="1192.8" y="700.3" width="212.9" height="159.5"/></clipPath>
<clipPath id="cBR"><rect x="1412.5" y="700.3" width="212.7" height="159.5"/></clipPath>
</defs>
<g clip-path="url(#cTL)">
<rect x="1192.8" y="534.3" width="212.9" height="159.5" fill="#cbbfc0" stroke="none" stroke-width="1"/>
<rect x="1192.8" y="534.3" width="212.9" height="159.5" filter="url(#grP1)"/>
<g filter="url(#sb1)">
<circle cx="1327.1" cy="540.7" r="2.7" fill="#8a96be" opacity="0.39301313095382906"/>
<circle cx="1327.1" cy="540.7" r="1.0" fill="#5a70b4" opacity="0.4421397723230577"/>
<circle cx="1362.0" cy="541.3" r="2.9" fill="#8a96be" opacity="0.40959112665677133"/>
<circle cx="1362.0" cy="541.3" r="1.1" fill="#5a70b4" opacity="0.4607900174888677"/>
<circle cx="1376.7" cy="545.2" r="2.6" fill="#8a96be" opacity="0.48850912463522395"/>
<circle cx="1376.7" cy="545.2" r="1.0" fill="#5a70b4" opacity="0.549572765214627"/>
<circle cx="1397.6" cy="540.2" r="3.3" fill="#8a96be" opacity="0.6161447524786587"/>
<circle cx="1397.6" cy="540.2" r="1.3" fill="#5a70b4" opacity="0.693162846538491"/>
<circle cx="1280.3" cy="546.9" r="3.2" fill="#8a96be" opacity="0.43101701622090166"/>
<circle cx="1280.3" cy="546.9" r="1.2" fill="#5a70b4" opacity="0.4848941432485143"/>
<circle cx="1284.2" cy="550.9" r="3.0" fill="#8a96be" opacity="0.4485384459012641"/>
<circle cx="1284.2" cy="550.9" r="1.1" fill="#5a70b4" opacity="0.5046057516389222"/>
<circle cx="1258.3" cy="549.2" r="2.7" fill="#8a96be" opacity="0.39397865357808964"/>
<circle cx="1258.3" cy="549.2" r="1.0" fill="#5a70b4" opacity="0.44322598527535084"/>
<circle cx="1230.6" cy="554.3" r="2.7" fill="#8a96be" opacity="0.6567922020569794"/>
<circle cx="1230.6" cy="554.3" r="1.0" fill="#5a70b4" opacity="0.7388912273141017"/>
<circle cx="1316.4" cy="553.7" r="3.2" fill="#8a96be" opacity="0.6181287509447435"/>
<circle cx="1316.4" cy="553.7" r="1.2" fill="#5a70b4" opacity="0.6953948448128364"/>
<circle cx="1363.2" cy="554.3" r="3.2" fill="#8a96be" opacity="0.4218993977661568"/>
<circle cx="1363.2" cy="554.3" r="1.2" fill="#5a70b4" opacity="0.4746368224869264"/>
<circle cx="1362.6" cy="559.9" r="2.8" fill="#8a96be" opacity="0.5606321927722017"/>
<circle cx="1362.6" cy="559.9" r="1.1" fill="#5a70b4" opacity="0.6307112168687268"/>
<circle cx="1391.9" cy="557.1" r="3.2" fill="#8a96be" opacity="0.6334874745572311"/>
<circle cx="1391.9" cy="557.1" r="1.2" fill="#5a70b4" opacity="0.712673408876885"/>
<circle cx="1327.1" cy="559.9" r="3.3" fill="#8a96be" opacity="0.387749840843175"/>
<circle cx="1327.1" cy="559.9" r="1.3" fill="#5a70b4" opacity="0.43621857094857186"/>
<circle cx="1262.2" cy="563.8" r="3.0" fill="#8a96be" opacity="0.5749444660852715"/>
<circle cx="1262.2" cy="563.8" r="1.2" fill="#5a70b4" opacity="0.6468125243459304"/>
<circle cx="1279.7" cy="567.8" r="3.0" fill="#8a96be" opacity="0.41689285575705104"/>
<circle cx="1279.7" cy="567.8" r="1.1" fill="#5a70b4" opacity="0.4690044627266824"/>
<circle cx="1278.6" cy="573.4" r="2.9" fill="#8a96be" opacity="0.38859078632492494"/>
<circle cx="1278.6" cy="573.4" r="1.1" fill="#5a70b4" opacity="0.4371646346155405"/>
<circle cx="1229.5" cy="575.1" r="3.3" fill="#8a96be" opacity="0.6369549344592267"/>
<circle cx="1229.5" cy="575.1" r="1.3" fill="#5a70b4" opacity="0.71657430126663"/>
<circle cx="1207.5" cy="573.4" r="3.0" fill="#8a96be" opacity="0.45607863666346393"/>
<circle cx="1207.5" cy="573.4" r="1.1" fill="#5a70b4" opacity="0.5130884662463969"/>
<circle cx="1196.8" cy="583.0" r="3.3" fill="#8a96be" opacity="0.5431573765394853"/>
<circle cx="1196.8" cy="583.0" r="1.3" fill="#5a70b4" opacity="0.611052048606921"/>
<circle cx="1336.7" cy="570.6" r="3.3" fill="#8a96be" opacity="0.631374108231563"/>
<circle cx="1336.7" cy="570.6" r="1.3" fill="#5a70b4" opacity="0.7102958717605085"/>
<circle cx="1358.7" cy="576.3" r="3.0" fill="#8a96be" opacity="0.4924627338021543"/>
<circle cx="1358.7" cy="576.3" r="1.1" fill="#5a70b4" opacity="0.5540205755274236"/>
<circle cx="1367.1" cy="571.7" r="3.0" fill="#8a96be" opacity="0.49793376553385826"/>
<circle cx="1367.1" cy="571.7" r="1.2" fill="#5a70b4" opacity="0.5601754862255905"/>
<circle cx="1389.7" cy="571.7" r="2.6" fill="#8a96be" opacity="0.45763571085847654"/>
<circle cx="1389.7" cy="571.7" r="1.0" fill="#5a70b4" opacity="0.514840174715786"/>
<circle cx="1397.6" cy="570.6" r="3.2" fill="#8a96be" opacity="0.3738363101031195"/>
<circle cx="1397.6" cy="570.6" r="1.2" fill="#5a70b4" opacity="0.42056584886600945"/>
<circle cx="1330.5" cy="585.3" r="2.5" fill="#8a96be" opacity="0.5604322385727691"/>
<circle cx="1330.5" cy="585.3" r="1.0" fill="#5a70b4" opacity="0.6304862683943653"/>
<circle cx="1329.9" cy="590.9" r="2.8" fill="#8a96be" opacity="0.5310789743614152"/>
<circle cx="1329.9" cy="590.9" r="1.0" fill="#5a70b4" opacity="0.5974638461565921"/>
<circle cx="1372.8" cy="588.7" r="2.9" fill="#8a96be" opacity="0.46970984493508994"/>
<circle cx="1372.8" cy="588.7" r="1.1" fill="#5a70b4" opacity="0.5284235755519762"/>
<circle cx="1385.2" cy="590.9" r="3.4" fill="#8a96be" opacity="0.4225835181866609"/>
<circle cx="1385.2" cy="590.9" r="1.3" fill="#5a70b4" opacity="0.47540645795999353"/>
<circle cx="1366.0" cy="587.5" r="2.9" fill="#8a96be" opacity="0.4248545971751669"/>
<circle cx="1366.0" cy="587.5" r="1.1" fill="#5a70b4" opacity="0.4779614218220627"/>
<circle cx="1267.3" cy="596.6" r="3.1" fill="#8a96be" opacity="0.44841754718709864"/>
<circle cx="1267.3" cy="596.6" r="1.2" fill="#5a70b4" opacity="0.504469740585486"/>
<circle cx="1297.7" cy="602.2" r="2.8" fill="#8a96be" opacity="0.5990216579169481"/>
<circle cx="1297.7" cy="602.2" r="1.1" fill="#5a70b4" opacity="0.6738993651565666"/>
<circle cx="1215.4" cy="595.4" r="2.8" fill="#8a96be" opacity="0.5387292747466855"/>
<circle cx="1215.4" cy="595.4" r="1.1" fill="#5a70b4" opacity="0.6060704340900213"/>
<circle cx="1221.6" cy="609.5" r="3.3" fill="#8a96be" opacity="0.39231342038971506"/>
<circle cx="1221.6" cy="609.5" r="1.3" fill="#5a70b4" opacity="0.4413525979384294"/>
<circle cx="1338.9" cy="604.5" r="2.6" fill="#8a96be" opacity="0.43323822087640473"/>
<circle cx="1338.9" cy="604.5" r="1.0" fill="#5a70b4" opacity="0.4873929984859553"/>
<circle cx="1321.4" cy="606.2" r="3.2" fill="#8a96be" opacity="0.5569382640411832"/>
<circle cx="1321.4" cy="606.2" r="1.2" fill="#5a70b4" opacity="0.626555547046331"/>
<circle cx="1393.1" cy="610.7" r="2.7" fill="#8a96be" opacity="0.46594143851895514"/>
<circle cx="1393.1" cy="610.7" r="1.0" fill="#5a70b4" opacity="0.5241841183338245"/>
<circle cx="1369.4" cy="614.6" r="2.7" fill="#8a96be" opacity="0.5068860006944563"/>
<circle cx="1369.4" cy="614.6" r="1.0" fill="#5a70b4" opacity="0.5702467507812634"/>
<circle cx="1368.8" cy="620.3" r="2.5" fill="#8a96be" opacity="0.5831334020676859"/>
<circle cx="1368.8" cy="620.3" r="1.0" fill="#5a70b4" opacity="0.6560250773261467"/>
<circle cx="1205.8" cy="619.1" r="3.3" fill="#8a96be" opacity="0.6655160314695504"/>
<circle cx="1205.8" cy="619.1" r="1.3" fill="#5a70b4" opacity="0.7487055354032442"/>
<circle cx="1196.8" cy="619.1" r="3.2" fill="#8a96be" opacity="0.6671576293161444"/>
<circle cx="1196.8" cy="619.1" r="1.2" fill="#5a70b4" opacity="0.7505523329806624"/>
<circle cx="1251.5" cy="624.2" r="2.5" fill="#8a96be" opacity="0.45247886972826984"/>
<circle cx="1251.5" cy="624.2" r="1.0" fill="#5a70b4" opacity="0.5090387284443035"/>
<circle cx="1221.6" cy="629.8" r="3.4" fill="#8a96be" opacity="0.6080766192720475"/>
<circle cx="1221.6" cy="629.8" r="1.3" fill="#5a70b4" opacity="0.6840861966810534"/>
<circle cx="1314.1" cy="629.3" r="2.9" fill="#8a96be" opacity="0.661858677552954"/>
<circle cx="1314.1" cy="629.3" r="1.1" fill="#5a70b4" opacity="0.7445910122470732"/>
<circle cx="1344.0" cy="632.1" r="3.1" fill="#8a96be" opacity="0.6217368962234409"/>
<circle cx="1344.0" cy="632.1" r="1.2" fill="#5a70b4" opacity="0.6994540082513709"/>
<circle cx="1359.2" cy="628.1" r="2.8" fill="#8a96be" opacity="0.4212528655387966"/>
<circle cx="1359.2" cy="628.1" r="1.1" fill="#5a70b4" opacity="0.47390947373114617"/>
<circle cx="1382.4" cy="634.9" r="2.9" fill="#8a96be" opacity="0.4036600404978928"/>
<circle cx="1382.4" cy="634.9" r="1.1" fill="#5a70b4" opacity="0.4541175455601294"/>
<circle cx="1394.2" cy="629.3" r="2.8" fill="#8a96be" opacity="0.6677803591702096"/>
<circle cx="1394.2" cy="629.3" r="1.1" fill="#5a70b4" opacity="0.7512529040664857"/>
<circle cx="1370.5" cy="645.6" r="2.8" fill="#8a96be" opacity="0.3630068692286607"/>
<circle cx="1370.5" cy="645.6" r="1.1" fill="#5a70b4" opacity="0.4083827278822433"/>
<circle cx="1349.6" cy="653.0" r="2.5" fill="#8a96be" opacity="0.4142614540223857"/>
<circle cx="1349.6" cy="653.0" r="1.0" fill="#5a70b4" opacity="0.4660441357751839"/>
<circle cx="1359.8" cy="654.7" r="3.2" fill="#8a96be" opacity="0.4760717654161102"/>
<circle cx="1359.8" cy="654.7" r="1.2" fill="#5a70b4" opacity="0.535580736093124"/>
<circle cx="1356.4" cy="659.7" r="2.8" fill="#8a96be" opacity="0.39107270822364515"/>
<circle cx="1356.4" cy="659.7" r="1.0" fill="#5a70b4" opacity="0.43995679675160076"/>
<circle cx="1210.9" cy="660.3" r="3.4" fill="#8a96be" opacity="0.4956648061669584"/>
<circle cx="1210.9" cy="660.3" r="1.3" fill="#5a70b4" opacity="0.5576229069378281"/>
<circle cx="1237.4" cy="659.7" r="2.7" fill="#8a96be" opacity="0.3789886476092558"/>
<circle cx="1237.4" cy="659.7" r="1.0" fill="#5a70b4" opacity="0.4263622285604128"/>
<circle cx="1247.0" cy="664.3" r="2.5" fill="#8a96be" opacity="0.4139744868172046"/>
<circle cx="1247.0" cy="664.3" r="1.0" fill="#5a70b4" opacity="0.46572129766935516"/>
<circle cx="1275.7" cy="659.7" r="3.1" fill="#8a96be" opacity="0.40788497115735406"/>
<circle cx="1275.7" cy="659.7" r="1.2" fill="#5a70b4" opacity="0.45887059255202334"/>
<circle cx="1273.5" cy="665.9" r="2.5" fill="#8a96be" opacity="0.5170136370245578"/>
<circle cx="1273.5" cy="665.9" r="1.0" fill="#5a70b4" opacity="0.5816403416526275"/>
<circle cx="1292.7" cy="660.9" r="2.7" fill="#8a96be" opacity="0.679243688668189"/>
<circle cx="1292.7" cy="660.9" r="1.0" fill="#5a70b4" opacity="0.7641491497517126"/>
<circle cx="1325.4" cy="664.3" r="2.6" fill="#8a96be" opacity="0.5293573076555905"/>
<circle cx="1325.4" cy="664.3" r="1.0" fill="#5a70b4" opacity="0.5955269711125394"/>
<circle cx="1380.7" cy="657.5" r="3.2" fill="#8a96be" opacity="0.4909827939310364"/>
<circle cx="1380.7" cy="657.5" r="1.2" fill="#5a70b4" opacity="0.5523556431724159"/>
<circle cx="1219.9" cy="667.1" r="3.4" fill="#8a96be" opacity="0.5128838281673735"/>
<circle cx="1219.9" cy="667.1" r="1.3" fill="#5a70b4" opacity="0.5769943066882952"/>
<circle cx="1304.5" cy="675.5" r="2.7" fill="#8a96be" opacity="0.49139919636711754"/>
<circle cx="1304.5" cy="675.5" r="1.0" fill="#5a70b4" opacity="0.5528240959130072"/>
<circle cx="1315.2" cy="680.6" r="2.5" fill="#8a96be" opacity="0.4947907076919129"/>
<circle cx="1315.2" cy="680.6" r="1.0" fill="#5a70b4" opacity="0.5566395461534019"/>
<circle cx="1280.3" cy="686.2" r="2.7" fill="#8a96be" opacity="0.6445761333175586"/>
<circle cx="1280.3" cy="686.2" r="1.0" fill="#5a70b4" opacity="0.7251481499822534"/>
<circle cx="1212.0" cy="681.2" r="3.2" fill="#8a96be" opacity="0.5195455102627519"/>
<circle cx="1212.0" cy="681.2" r="1.2" fill="#5a70b4" opacity="0.5844886990455957"/>
<circle cx="1228.9" cy="680.6" r="2.5" fill="#8a96be" opacity="0.441405971654385"/>
<circle cx="1228.9" cy="680.6" r="1.0" fill="#5a70b4" opacity="0.4965817181111831"/>
<circle cx="1269.0" cy="689.1" r="2.7" fill="#8a96be" opacity="0.4265809578235521"/>
<circle cx="1269.0" cy="689.1" r="1.0" fill="#5a70b4" opacity="0.4799035775514961"/>
<circle cx="1251.5" cy="689.1" r="2.7" fill="#8a96be" opacity="0.638307045129984"/>
<circle cx="1251.5" cy="689.1" r="1.0" fill="#5a70b4" opacity="0.7180954257712321"/>
<circle cx="1341.7" cy="692.5" r="2.6" fill="#8a96be" opacity="0.37640759203678487"/>
<circle cx="1341.7" cy="692.5" r="1.0" fill="#5a70b4" opacity="0.423458541041383"/>
<circle cx="1385.2" cy="672.7" r="3.3" fill="#8a96be" opacity="0.5409101441308403"/>
<circle cx="1385.2" cy="672.7" r="1.3" fill="#5a70b4" opacity="0.6085239121471954"/>
<circle cx="1216.5" cy="643.9" r="3.4" fill="#8a96be" opacity="0.4889478611058121"/>
<circle cx="1216.5" cy="643.9" r="1.3" fill="#5a70b4" opacity="0.5500663437440386"/>
<circle cx="1226.1" cy="645.1" r="3.3" fill="#8a96be" opacity="0.5692715093395665"/>
<circle cx="1226.1" cy="645.1" r="1.3" fill="#5a70b4" opacity="0.6404304480070122"/>
<circle cx="1269.5" cy="649.6" r="3.2" fill="#8a96be" opacity="0.5983124114048558"/>
<circle cx="1269.5" cy="649.6" r="1.2" fill="#5a70b4" opacity="0.6731014628304628"/>
<circle cx="1349.1" cy="544.7" r="2.9" fill="#8a96be" opacity="0.38973075730826273"/>
<circle cx="1349.1" cy="544.7" r="1.1" fill="#5a70b4" opacity="0.4384471019717956"/>
<circle cx="1297.2" cy="583.0" r="2.7" fill="#8a96be" opacity="0.6396179928119298"/>
<circle cx="1297.2" cy="583.0" r="1.0" fill="#5a70b4" opacity="0.7195702419134209"/>
<circle cx="1349.1" cy="584.2" r="3.3" fill="#8a96be" opacity="0.6558647588859929"/>
<circle cx="1349.1" cy="584.2" r="1.3" fill="#5a70b4" opacity="0.737847853746742"/>
<circle cx="1399.8" cy="590.9" r="2.8" fill="#8a96be" opacity="0.5702108799725272"/>
<circle cx="1399.8" cy="590.9" r="1.1" fill="#5a70b4" opacity="0.6414872399690931"/>
<circle cx="1329.9" cy="622.5" r="3.2" fill="#8a96be" opacity="0.5655980546832969"/>
<circle cx="1329.9" cy="622.5" r="1.2" fill="#5a70b4" opacity="0.6362978115187091"/>
<circle cx="1394.2" cy="663.1" r="3.2" fill="#8a96be" opacity="0.5289676456814718"/>
<circle cx="1394.2" cy="663.1" r="1.2" fill="#5a70b4" opacity="0.5950886013916558"/>
<circle cx="1381.8" cy="646.2" r="3.1" fill="#8a96be" opacity="0.5795071525600061"/>
<circle cx="1381.8" cy="646.2" r="1.2" fill="#5a70b4" opacity="0.6519455466300068"/>
<ellipse cx="1238.5" cy="546.9" rx="1.2" ry="2.8" fill="#4463b4" opacity="0.8" transform="rotate(30 1238.5 546.9)"/>
<ellipse cx="1252.0" cy="555.0" rx="1.2" ry="2.8" fill="#4463b4" opacity="0.8" transform="rotate(70 1252.0 555.0)"/>
<ellipse cx="1346.2" cy="611.2" rx="1.2" ry="2.8" fill="#4463b4" opacity="0.8" transform="rotate(60 1346.2 611.2)"/>
<ellipse cx="1276.9" cy="629.3" rx="1.2" ry="2.8" fill="#4463b4" opacity="0.8" transform="rotate(55 1276.9 629.3)"/>
<ellipse cx="1279.1" cy="625.9" rx="1.2" ry="2.8" fill="#4463b4" opacity="0.8" transform="rotate(50 1279.1 625.9)"/>
<ellipse cx="1358.7" cy="606.7" rx="1.2" ry="2.8" fill="#4463b4" opacity="0.8" transform="rotate(80 1358.7 606.7)"/>
<ellipse cx="1211.4" cy="546.4" rx="1.2" ry="2.8" fill="#4463b4" opacity="0.8" transform="rotate(85 1211.4 546.4)"/>
<ellipse cx="1335.5" cy="541.8" rx="1.2" ry="2.8" fill="#4463b4" opacity="0.8" transform="rotate(80 1335.5 541.8)"/>
<ellipse cx="1389.7" cy="557.6" rx="1.2" ry="2.8" fill="#4463b4" opacity="0.8" transform="rotate(20 1389.7 557.6)"/>
<ellipse cx="1391.9" cy="572.9" rx="1.2" ry="2.8" fill="#4463b4" opacity="0.8" transform="rotate(40 1391.9 572.9)"/>
<ellipse cx="1404.4" cy="577.4" rx="1.2" ry="2.8" fill="#4463b4" opacity="0.8" transform="rotate(70 1404.4 577.4)"/>
<ellipse cx="1366.0" cy="571.2" rx="1.2" ry="2.8" fill="#4463b4" opacity="0.8" transform="rotate(20 1366.0 571.2)"/>
<ellipse cx="1371.6" cy="572.3" rx="1.2" ry="2.8" fill="#4463b4" opacity="0.8" transform="rotate(40 1371.6 572.3)"/>
<ellipse cx="1376.7" cy="616.3" rx="1.2" ry="2.8" fill="#4463b4" opacity="0.8" transform="rotate(75 1376.7 616.3)"/>
<ellipse cx="1390.8" cy="671.0" rx="1.2" ry="2.8" fill="#4463b4" opacity="0.8" transform="rotate(85 1390.8 671.0)"/>
<ellipse cx="1331.0" cy="640.0" rx="1.2" ry="2.8" fill="#4463b4" opacity="0.8" transform="rotate(80 1331.0 640.0)"/>
<ellipse cx="1237.4" cy="677.8" rx="1.2" ry="2.8" fill="#4463b4" opacity="0.8" transform="rotate(90 1237.4 677.8)"/>
<ellipse cx="1208.1" cy="648.5" rx="1.2" ry="2.8" fill="#4463b4" opacity="0.8"/>
<ellipse cx="1196.8" cy="557.6" rx="1.2" ry="2.8" fill="#4463b4" opacity="0.8" transform="rotate(40 1196.8 557.6)"/>
<ellipse cx="1386.3" cy="578.5" rx="1.2" ry="2.8" fill="#4463b4" opacity="0.8" transform="rotate(65 1386.3 578.5)"/>
<ellipse cx="1294.9" cy="567.2" rx="1.2" ry="2.8" fill="#4463b4" opacity="0.8" transform="rotate(70 1294.9 567.2)"/>
<ellipse cx="1401.0" cy="555.4" rx="1.2" ry="2.8" fill="#4463b4" opacity="0.8" transform="rotate(60 1401.0 555.4)"/>
</g>
<text x="1372" y="687.5" font-size="4.5" fill="#6a5a60" opacity="0.8">50 μm</text>
<line x1="1357" y1="688.6" x2="1388" y2="688.6" stroke="#5a4a50" stroke-width="0.5" stroke-linecap="butt"/>
</g>
<path d="M1233.7 590.4 H1304.5 V641.9 H1233.7 Z" fill="none" stroke="#000" stroke-width="3.9" stroke-linejoin="miter" stroke-linecap="butt" stroke-dasharray="3.9 3.7"/>
<path d="M1233.7 641.9 L1194.2 692.6" fill="none" stroke="#000" stroke-width="3.6" stroke-linejoin="miter" stroke-linecap="butt" stroke-dasharray="3.6 3.4"/>
<path d="M1304.5 641.9 L1404.8 693.0" fill="none" stroke="#000" stroke-width="3.6" stroke-linejoin="miter" stroke-linecap="butt" stroke-dasharray="3.6 3.4"/>
<g clip-path="url(#cTR)">
<rect x="1412.5" y="534.3" width="212.7" height="159.5" fill="#c4a48e" stroke="none" stroke-width="1"/>
<rect x="1412.5" y="534.3" width="212.7" height="159.5" filter="url(#grT1)"/>
<g filter="url(#sb2)">
<ellipse cx="1436.2" cy="567.2" rx="8.2" ry="6.0" fill="#f1e9e4" opacity="0.85" transform="rotate(85.42272216393866 1436.2 567.2)"/>
<ellipse cx="1493.7" cy="552.6" rx="6.5" ry="4.7" fill="#f1e9e4" opacity="0.85" transform="rotate(118.34505047830596 1493.7 552.6)"/>
<ellipse cx="1532.1" cy="552.6" rx="6.5" ry="4.7" fill="#f1e9e4" opacity="0.85" transform="rotate(119.95388480247085 1532.1 552.6)"/>
<ellipse cx="1570.5" cy="580.8" rx="5.9" ry="4.3" fill="#f1e9e4" opacity="0.85" transform="rotate(25.668063526566197 1570.5 580.8)"/>
<ellipse cx="1603.2" cy="561.6" rx="4.7" ry="3.4" fill="#f1e9e4" opacity="0.85" transform="rotate(1.954879756212231 1603.2 561.6)"/>
<ellipse cx="1616.7" cy="597.7" rx="5.3" ry="3.9" fill="#f1e9e4" opacity="0.85" transform="rotate(67.4558085714056 1616.7 597.7)"/>
<ellipse cx="1441.8" cy="675.5" rx="10.3" ry="7.5" fill="#f1e9e4" opacity="0.85" transform="rotate(49.32866510609965 1441.8 675.5)"/>
<ellipse cx="1493.7" cy="684.6" rx="8.2" ry="6.0" fill="#f1e9e4" opacity="0.85" transform="rotate(145.86264940231507 1493.7 684.6)"/>
<ellipse cx="1611.1" cy="653.0" rx="5.9" ry="4.3" fill="#f1e9e4" opacity="0.85" transform="rotate(124.30667754696321 1611.1 653.0)"/>
<ellipse cx="1536.6" cy="671.0" rx="5.3" ry="3.9" fill="#f1e9e4" opacity="0.85" transform="rotate(108.26226697099197 1536.6 671.0)"/>
<ellipse cx="1577.2" cy="643.9" rx="6.5" ry="4.7" fill="#f1e9e4" opacity="0.85" transform="rotate(100.47420859560265 1577.2 643.9)"/>
<ellipse cx="1477.9" cy="602.2" rx="4.7" ry="3.4" fill="#f1e9e4" opacity="0.85" transform="rotate(119.03779545696018 1477.9 602.2)"/>
<ellipse cx="1529.8" cy="599.9" rx="4.7" ry="3.4" fill="#f1e9e4" opacity="0.85" transform="rotate(26.154503047818537 1529.8 599.9)"/>
<ellipse cx="1595.3" cy="588.7" rx="5.3" ry="3.9" fill="#f1e9e4" opacity="0.85" transform="rotate(79.20986254645857 1595.3 588.7)"/>
<ellipse cx="1505.0" cy="627.0" rx="4.7" ry="3.4" fill="#f1e9e4" opacity="0.85" transform="rotate(29.208118029999955 1505.0 627.0)"/>
<ellipse cx="1422.7" cy="629.3" rx="5.9" ry="4.3" fill="#f1e9e4" opacity="0.85" transform="rotate(163.07513667527806 1422.7 629.3)"/>
<ellipse cx="1466.7" cy="687.9" rx="5.9" ry="4.3" fill="#f1e9e4" opacity="0.85" transform="rotate(10.588378933955893 1466.7 687.9)"/>
<ellipse cx="1614.5" cy="667.6" rx="4.7" ry="3.4" fill="#f1e9e4" opacity="0.85" transform="rotate(147.38762301157448 1614.5 667.6)"/>
<ellipse cx="1480.2" cy="548.1" rx="6.0" ry="4.5" fill="#a2632f" opacity="0.75" transform="rotate(13.429734054457946 1480.2 548.1)"/>
<ellipse cx="1549.0" cy="561.6" rx="7.0" ry="5.3" fill="#a2632f" opacity="0.75" transform="rotate(123.65019073683752 1549.0 561.6)"/>
<ellipse cx="1573.8" cy="583.0" rx="4.9" ry="3.7" fill="#a2632f" opacity="0.75" transform="rotate(60.65992670251817 1573.8 583.0)"/>
<ellipse cx="1538.9" cy="615.7" rx="4.3" ry="3.2" fill="#a2632f" opacity="0.75" transform="rotate(72.83057096315684 1538.9 615.7)"/>
<ellipse cx="1560.3" cy="618.0" rx="4.3" ry="3.2" fill="#a2632f" opacity="0.75" transform="rotate(151.63260620626113 1560.3 618.0)"/>
<ellipse cx="1520.8" cy="593.2" rx="3.8" ry="2.8" fill="#a2632f" opacity="0.75" transform="rotate(3.3487740561604995 1520.8 593.2)"/>
<ellipse cx="1419.3" cy="584.2" rx="7.0" ry="5.3" fill="#a2632f" opacity="0.75" transform="rotate(10.941245314014395 1419.3 584.2)"/>
<ellipse cx="1505.0" cy="657.5" rx="4.9" ry="3.7" fill="#a2632f" opacity="0.75" transform="rotate(164.70605581379044 1505.0 657.5)"/>
<ellipse cx="1518.6" cy="663.1" rx="4.3" ry="3.2" fill="#a2632f" opacity="0.75" transform="rotate(91.60666495698626 1518.6 663.1)"/>
<ellipse cx="1620.1" cy="583.0" rx="4.9" ry="3.7" fill="#a2632f" opacity="0.75" transform="rotate(16.376038030545 1620.1 583.0)"/>
<ellipse cx="1584.0" cy="641.7" rx="4.9" ry="3.7" fill="#a2632f" opacity="0.75" transform="rotate(177.68411827300253 1584.0 641.7)"/>
<ellipse cx="1458.8" cy="645.1" rx="5.4" ry="4.1" fill="#a2632f" opacity="0.75" transform="rotate(170.4083433737887 1458.8 645.1)"/>
<ellipse cx="1602.0" cy="597.7" rx="4.3" ry="3.2" fill="#a2632f" opacity="0.75" transform="rotate(20.25497450646476 1602.0 597.7)"/>
<ellipse cx="1430.6" cy="563.8" rx="4.3" ry="3.2" fill="#a2632f" opacity="0.75" transform="rotate(76.17719020573685 1430.6 563.8)"/>
<ellipse cx="1619.0" cy="544.7" rx="5.4" ry="4.1" fill="#a2632f" opacity="0.75" transform="rotate(24.312510170849528 1619.0 544.7)"/>
<ellipse cx="1588.5" cy="546.9" rx="5.4" ry="4.1" fill="#a2632f" opacity="0.75" transform="rotate(56.257324954608265 1588.5 546.9)"/>
<ellipse cx="1563.7" cy="656.4" rx="4.3" ry="3.2" fill="#a2632f" opacity="0.75" transform="rotate(111.8613506888578 1563.7 656.4)"/>
<ellipse cx="1435.1" cy="628.1" rx="5.0" ry="3.7" fill="#9aa8d0" opacity="0.55" transform="rotate(29.43434309741664 1435.1 628.1)"/>
<ellipse cx="1441.8" cy="680.0" rx="6.8" ry="5.1" fill="#9aa8d0" opacity="0.55" transform="rotate(125.4302079931162 1441.8 680.0)"/>
<ellipse cx="1420.4" cy="671.0" rx="5.0" ry="3.7" fill="#9aa8d0" opacity="0.55" transform="rotate(9.243597089700863 1420.4 671.0)"/>
</g>
<g filter="url(#sb1)">
<ellipse cx="1501.6" cy="629.4" rx="2.6" ry="2.5" fill="#4e4460" opacity="0.8250914639571432" transform="rotate(22.174130287035204 1501.6 629.4)"/>
<ellipse cx="1513.9" cy="595.6" rx="3.0" ry="2.4" fill="#464662" opacity="0.8848407201627628" transform="rotate(21.50540075686455 1513.9 595.6)"/>
<ellipse cx="1419.0" cy="650.1" rx="2.5" ry="2.0" fill="#2e3878" opacity="0.6898815082353862" transform="rotate(8.745947447697514 1419.0 650.1)"/>
<ellipse cx="1618.3" cy="690.0" rx="2.5" ry="2.2" fill="#2f376c" opacity="0.8005871277216712" transform="rotate(20.133194874304856 1618.3 690.0)"/>
<ellipse cx="1553.6" cy="591.1" rx="2.7" ry="2.3" fill="#2e3878" opacity="0.9694604760411499" transform="rotate(4.0501056344709045 1553.6 591.1)"/>
<ellipse cx="1489.7" cy="644.4" rx="2.1" ry="2.2" fill="#4e4460" opacity="0.6649599815990279" transform="rotate(66.8285215914454 1489.7 644.4)"/>
<ellipse cx="1555.8" cy="552.5" rx="2.8" ry="2.3" fill="#2e3878" opacity="0.8835311682297812" transform="rotate(114.2568893917395 1555.8 552.5)"/>
<ellipse cx="1462.5" cy="592.2" rx="2.0" ry="2.1" fill="#48486a" opacity="0.7639821468427714" transform="rotate(116.41538405552681 1462.5 592.2)"/>
<ellipse cx="1521.3" cy="663.5" rx="2.3" ry="2.2" fill="#384076" opacity="0.8299733097114899" transform="rotate(98.15673661572067 1521.3 663.5)"/>
<ellipse cx="1518.9" cy="538.8" rx="2.9" ry="3.1" fill="#4e4460" opacity="0.8569070854377057" transform="rotate(2.162398683833502 1518.9 538.8)"/>
<ellipse cx="1587.5" cy="602.9" rx="2.9" ry="2.3" fill="#4e4460" opacity="0.8733422606624702" transform="rotate(124.77838551138582 1587.5 602.9)"/>
<ellipse cx="1522.9" cy="569.7" rx="2.4" ry="2.0" fill="#2e3878" opacity="0.6339890777759422" transform="rotate(61.91766518220058 1522.9 569.7)"/>
<ellipse cx="1503.4" cy="596.2" rx="2.1" ry="1.8" fill="#2e3878" opacity="0.6414571637724011" transform="rotate(110.28597546763312 1503.4 596.2)"/>
<ellipse cx="1576.7" cy="550.7" rx="2.6" ry="2.2" fill="#2f376c" opacity="0.6563254178424115" transform="rotate(149.5374496979953 1576.7 550.7)"/>
<ellipse cx="1529.5" cy="562.7" rx="2.5" ry="2.3" fill="#464662" opacity="0.7707817327920418" transform="rotate(5.947409042879439 1529.5 562.7)"/>
<ellipse cx="1560.5" cy="540.2" rx="2.8" ry="2.3" fill="#48486a" opacity="0.8646332588875949" transform="rotate(113.36826110533448 1560.5 540.2)"/>
<ellipse cx="1471.3" cy="589.2" rx="2.7" ry="2.8" fill="#504c6a" opacity="0.7946984380434394" transform="rotate(171.89746266083287 1471.3 589.2)"/>
<ellipse cx="1548.0" cy="542.6" rx="2.8" ry="2.2" fill="#4e4460" opacity="0.617390873768272" transform="rotate(7.766035186148452 1548.0 542.6)"/>
<ellipse cx="1510.2" cy="567.6" rx="2.3" ry="2.5" fill="#2f376c" opacity="0.6311173452028962" transform="rotate(161.50262581804063 1510.2 567.6)"/>
<ellipse cx="1472.5" cy="610.3" rx="2.8" ry="2.3" fill="#4e4460" opacity="0.723452615561512" transform="rotate(140.84172363515486 1472.5 610.3)"/>
<ellipse cx="1616.4" cy="611.0" rx="2.6" ry="2.3" fill="#504c6a" opacity="0.9249748590974101" transform="rotate(161.27554484990287 1616.4 611.0)"/>
<ellipse cx="1615.8" cy="561.0" rx="2.2" ry="1.9" fill="#464662" opacity="0.8477589789623313" transform="rotate(113.27388467463012 1615.8 561.0)"/>
<ellipse cx="1571.7" cy="679.8" rx="2.9" ry="2.6" fill="#4e4460" opacity="0.7765164393766456" transform="rotate(32.00449625190484 1571.7 679.8)"/>
<ellipse cx="1413.9" cy="577.1" rx="2.7" ry="2.7" fill="#2e3878" opacity="0.8889725950635581" transform="rotate(130.10167159051687 1413.9 577.1)"/>
<ellipse cx="1576.4" cy="588.8" rx="2.1" ry="1.6" fill="#4e4460" opacity="0.6034105294570632" transform="rotate(111.54137689690675 1576.4 588.8)"/>
<ellipse cx="1463.9" cy="535.7" rx="2.0" ry="2.2" fill="#464662" opacity="0.9268842451311496" transform="rotate(12.255971008482728 1463.9 535.7)"/>
<ellipse cx="1421.0" cy="633.0" rx="2.1" ry="1.7" fill="#504c6a" opacity="0.8516067298246559" transform="rotate(176.2882013606894 1421.0 633.0)"/>
<ellipse cx="1624.9" cy="614.6" rx="2.9" ry="2.4" fill="#424568" opacity="0.82882320413029" transform="rotate(36.18112363364926 1624.9 614.6)"/>
<ellipse cx="1417.6" cy="585.7" rx="2.7" ry="2.5" fill="#2f376c" opacity="0.7420934476764565" transform="rotate(72.54070432800899 1417.6 585.7)"/>
<ellipse cx="1580.0" cy="667.0" rx="2.5" ry="2.2" fill="#504c6a" opacity="0.6037304990633591" transform="rotate(53.967152683365484 1580.0 667.0)"/>
<ellipse cx="1548.5" cy="570.9" rx="2.2" ry="1.6" fill="#48486a" opacity="0.7214633720861722" transform="rotate(164.60146557807238 1548.5 570.9)"/>
<ellipse cx="1524.6" cy="610.4" rx="2.4" ry="2.5" fill="#384076" opacity="0.9009323612658214" transform="rotate(44.490896980653986 1524.6 610.4)"/>
<ellipse cx="1545.9" cy="576.2" rx="2.9" ry="2.5" fill="#464662" opacity="0.6947258092205091" transform="rotate(34.57607916730994 1545.9 576.2)"/>
<ellipse cx="1613.9" cy="676.9" rx="2.5" ry="2.1" fill="#464662" opacity="0.6933043055706661" transform="rotate(28.653142868806707 1613.9 676.9)"/>
<ellipse cx="1447.0" cy="580.8" rx="2.7" ry="2.8" fill="#4e4460" opacity="0.6181177882688447" transform="rotate(138.25426832764296 1447.0 580.8)"/>
<ellipse cx="1598.2" cy="578.7" rx="3.0" ry="2.5" fill="#48486a" opacity="0.8716269567255662" transform="rotate(123.4486572438906 1598.2 578.7)"/>
<ellipse cx="1613.3" cy="616.5" rx="3.0" ry="2.6" fill="#504c6a" opacity="0.6185836828952936" transform="rotate(75.98625619731607 1613.3 616.5)"/>
<ellipse cx="1560.5" cy="646.7" rx="2.5" ry="2.1" fill="#48486a" opacity="0.7576508775359041" transform="rotate(116.45420843406396 1560.5 646.7)"/>
<ellipse cx="1458.0" cy="579.8" rx="2.3" ry="2.3" fill="#343c70" opacity="0.8005675166049109" transform="rotate(19.450413667392404 1458.0 579.8)"/>
<ellipse cx="1466.7" cy="643.3" rx="2.5" ry="2.7" fill="#2f376c" opacity="0.629198784744725" transform="rotate(5.120840633228236 1466.7 643.3)"/>
<ellipse cx="1560.1" cy="555.3" rx="2.3" ry="2.3" fill="#384076" opacity="0.8066694839995596" transform="rotate(2.543549815811912 1560.1 555.3)"/>
<ellipse cx="1601.0" cy="601.3" rx="2.6" ry="2.0" fill="#48486a" opacity="0.9397992264901702" transform="rotate(17.736621187128602 1601.0 601.3)"/>
<ellipse cx="1463.8" cy="603.7" rx="2.3" ry="2.4" fill="#384076" opacity="0.6993376497993836" transform="rotate(80.80155413036644 1463.8 603.7)"/>
<ellipse cx="1620.8" cy="623.6" rx="2.1" ry="1.7" fill="#2e3878" opacity="0.6818380840070142" transform="rotate(12.192748996023798 1620.8 623.6)"/>
<ellipse cx="1545.4" cy="681.0" rx="2.9" ry="2.4" fill="#2f376c" opacity="0.7367259493169139" transform="rotate(155.30967212935124 1545.4 681.0)"/>
<ellipse cx="1537.7" cy="678.0" rx="2.2" ry="2.3" fill="#464662" opacity="0.7975611720126776" transform="rotate(44.379696724028896 1537.7 678.0)"/>
<ellipse cx="1535.9" cy="589.7" rx="2.8" ry="3.1" fill="#464662" opacity="0.7656492121244225" transform="rotate(172.51027294441482 1535.9 589.7)"/>
<ellipse cx="1490.9" cy="651.7" rx="2.8" ry="3.0" fill="#464662" opacity="0.8721517189103098" transform="rotate(19.76978199757383 1490.9 651.7)"/>
<ellipse cx="1532.3" cy="537.0" rx="2.1" ry="1.7" fill="#48486a" opacity="0.9140961339768698" transform="rotate(105.14521606612887 1532.3 537.0)"/>
<ellipse cx="1563.5" cy="678.5" rx="2.9" ry="2.9" fill="#2e3878" opacity="0.6692356408220361" transform="rotate(128.04850656472505 1563.5 678.5)"/>
<ellipse cx="1582.2" cy="677.4" rx="2.6" ry="2.1" fill="#4e4460" opacity="0.6420878368296574" transform="rotate(88.34322933919955 1582.2 677.4)"/>
<ellipse cx="1606.2" cy="619.6" rx="2.5" ry="2.0" fill="#343c70" opacity="0.7331650670130544" transform="rotate(101.0209700897935 1606.2 619.6)"/>
<ellipse cx="1580.3" cy="594.8" rx="2.5" ry="2.5" fill="#343c70" opacity="0.8199791850631607" transform="rotate(35.731506309484445 1580.3 594.8)"/>
<ellipse cx="1433.4" cy="590.6" rx="2.2" ry="1.7" fill="#343c70" opacity="0.9543919462003566" transform="rotate(28.832130818567034 1433.4 590.6)"/>
<ellipse cx="1478.9" cy="683.3" rx="2.4" ry="1.8" fill="#343c70" opacity="0.8569924249912676" transform="rotate(134.22168815754966 1478.9 683.3)"/>
<ellipse cx="1559.1" cy="620.7" rx="2.5" ry="2.3" fill="#4e4460" opacity="0.8633147980744658" transform="rotate(48.47971632192221 1559.1 620.7)"/>
<ellipse cx="1544.8" cy="554.2" rx="2.6" ry="2.5" fill="#424568" opacity="0.607024838908352" transform="rotate(128.45681033386725 1544.8 554.2)"/>
<ellipse cx="1526.1" cy="646.0" rx="2.4" ry="2.5" fill="#464662" opacity="0.6256342346976145" transform="rotate(100.72521987983805 1526.1 646.0)"/>
<ellipse cx="1496.3" cy="573.5" rx="2.4" ry="1.9" fill="#2f376c" opacity="0.7464927130426341" transform="rotate(105.75244531156628 1496.3 573.5)"/>
<ellipse cx="1499.0" cy="585.9" rx="2.2" ry="2.3" fill="#504c6a" opacity="0.6367697572556984" transform="rotate(153.3643871242641 1499.0 585.9)"/>
<ellipse cx="1431.8" cy="584.1" rx="2.2" ry="1.7" fill="#424568" opacity="0.6348392671893455" transform="rotate(101.33248952270168 1431.8 584.1)"/>
<ellipse cx="1560.5" cy="655.5" rx="2.2" ry="2.3" fill="#464662" opacity="0.9367530829972215" transform="rotate(17.103769328943006 1560.5 655.5)"/>
<ellipse cx="1552.8" cy="683.4" rx="2.9" ry="3.1" fill="#48486a" opacity="0.8405255604257286" transform="rotate(138.70439940992102 1552.8 683.4)"/>
<ellipse cx="1490.3" cy="539.0" rx="2.1" ry="1.7" fill="#343c70" opacity="0.7864855945682034" transform="rotate(114.0205088959462 1490.3 539.0)"/>
<ellipse cx="1516.3" cy="605.1" rx="2.4" ry="1.9" fill="#2e3878" opacity="0.8736556474714745" transform="rotate(171.98303034489518 1516.3 605.1)"/>
<ellipse cx="1450.7" cy="640.7" rx="2.4" ry="2.0" fill="#2e3878" opacity="0.784941401652832" transform="rotate(173.14370263649985 1450.7 640.7)"/>
<ellipse cx="1485.1" cy="572.3" rx="2.4" ry="1.8" fill="#424568" opacity="0.9453081858454228" transform="rotate(3.749146499816658 1485.1 572.3)"/>
<ellipse cx="1489.1" cy="578.9" rx="2.1" ry="1.9" fill="#424568" opacity="0.9253755749308132" transform="rotate(98.95273511116541 1489.1 578.9)"/>
<ellipse cx="1455.3" cy="603.3" rx="3.0" ry="2.7" fill="#2f376c" opacity="0.9642788308897033" transform="rotate(32.18890295957241 1455.3 603.3)"/>
<ellipse cx="1511.3" cy="631.0" rx="2.5" ry="2.0" fill="#2e3878" opacity="0.6916509652549132" transform="rotate(42.11602430294307 1511.3 631.0)"/>
<ellipse cx="1591.8" cy="574.2" rx="2.3" ry="1.8" fill="#504c6a" opacity="0.6939216445242493" transform="rotate(19.580721861819676 1591.8 574.2)"/>
<ellipse cx="1510.3" cy="670.6" rx="2.8" ry="2.2" fill="#4e4460" opacity="0.6153978482771362" transform="rotate(117.44714294217763 1510.3 670.6)"/>
<ellipse cx="1526.9" cy="655.7" rx="2.5" ry="2.3" fill="#464662" opacity="0.8782460588871888" transform="rotate(151.79628156795056 1526.9 655.7)"/>
<ellipse cx="1496.6" cy="641.7" rx="2.9" ry="3.0" fill="#2f376c" opacity="0.7214944678815911" transform="rotate(19.066072246639255 1496.6 641.7)"/>
<ellipse cx="1553.6" cy="689.4" rx="2.6" ry="2.2" fill="#4e4460" opacity="0.8680983227445482" transform="rotate(155.29367390043095 1553.6 689.4)"/>
<ellipse cx="1530.3" cy="642.9" rx="2.3" ry="1.9" fill="#2f376c" opacity="0.6461080852549996" transform="rotate(165.21098198796932 1530.3 642.9)"/>
<ellipse cx="1481.0" cy="614.0" rx="2.7" ry="2.5" fill="#48486a" opacity="0.9697859819808614" transform="rotate(91.30062026567836 1481.0 614.0)"/>
<ellipse cx="1466.1" cy="541.6" rx="2.9" ry="3.2" fill="#2e3878" opacity="0.7042234361914577" transform="rotate(144.35236571992522 1466.1 541.6)"/>
<ellipse cx="1583.4" cy="579.9" rx="2.6" ry="2.7" fill="#2f376c" opacity="0.6284015900849473" transform="rotate(129.29464152305718 1583.4 579.9)"/>
<ellipse cx="1611.6" cy="629.8" rx="2.9" ry="2.3" fill="#2e3878" opacity="0.748661829938227" transform="rotate(164.23088175961792 1611.6 629.8)"/>
<ellipse cx="1495.3" cy="673.6" rx="2.8" ry="2.5" fill="#384076" opacity="0.9230915567051288" transform="rotate(86.87389254090846 1495.3 673.6)"/>
<ellipse cx="1480.8" cy="554.4" rx="2.4" ry="2.0" fill="#48486a" opacity="0.8714630115178048" transform="rotate(60.7542902842392 1480.8 554.4)"/>
<ellipse cx="1548.8" cy="668.7" rx="2.8" ry="2.8" fill="#343c70" opacity="0.8215663455061983" transform="rotate(29.297059117297643 1548.8 668.7)"/>
<ellipse cx="1541.9" cy="659.4" rx="2.8" ry="2.8" fill="#424568" opacity="0.66231054916223" transform="rotate(110.53249897418046 1541.9 659.4)"/>
<ellipse cx="1468.5" cy="599.2" rx="2.7" ry="2.7" fill="#48486a" opacity="0.9164901729262664" transform="rotate(166.28942226759165 1468.5 599.2)"/>
<ellipse cx="1493.3" cy="595.7" rx="3.0" ry="2.5" fill="#343c70" opacity="0.654524869414027" transform="rotate(80.84225245295731 1493.3 595.7)"/>
<ellipse cx="1497.5" cy="663.0" rx="2.5" ry="2.5" fill="#2f376c" opacity="0.7439060350477797" transform="rotate(39.06418953896584 1497.5 663.0)"/>
<ellipse cx="1619.0" cy="617.7" rx="2.5" ry="1.9" fill="#343c70" opacity="0.8823693929332297" transform="rotate(41.71067847647599 1619.0 617.7)"/>
<ellipse cx="1423.8" cy="667.5" rx="2.9" ry="2.2" fill="#2e3878" opacity="0.7806513531223137" transform="rotate(51.59540426863007 1423.8 667.5)"/>
<ellipse cx="1587.2" cy="591.5" rx="3.0" ry="2.9" fill="#4e4460" opacity="0.7149724355766326" transform="rotate(178.88927006713635 1587.2 591.5)"/>
<ellipse cx="1596.5" cy="667.2" rx="2.4" ry="1.8" fill="#464662" opacity="0.7311588784782665" transform="rotate(128.70449201781614 1596.5 667.2)"/>
<ellipse cx="1478.1" cy="536.4" rx="2.5" ry="1.9" fill="#343c70" opacity="0.6482923057303953" transform="rotate(158.06339742852168 1478.1 536.4)"/>
<ellipse cx="1475.6" cy="564.6" rx="2.8" ry="2.9" fill="#464662" opacity="0.8122469473334585" transform="rotate(19.08913008034563 1475.6 564.6)"/>
<ellipse cx="1451.6" cy="584.1" rx="2.7" ry="2.9" fill="#2f376c" opacity="0.7760465548583655" transform="rotate(18.852426368974847 1451.6 584.1)"/>
<ellipse cx="1595.9" cy="631.1" rx="2.6" ry="2.1" fill="#424568" opacity="0.9084070919721852" transform="rotate(130.0421245762505 1595.9 631.1)"/>
<ellipse cx="1434.3" cy="643.6" rx="2.2" ry="1.9" fill="#504c6a" opacity="0.8011703805918483" transform="rotate(70.26592524265115 1434.3 643.6)"/>
<ellipse cx="1524.7" cy="638.2" rx="2.2" ry="2.0" fill="#2f376c" opacity="0.7829556565160181" transform="rotate(24.46186340102779 1524.7 638.2)"/>
<ellipse cx="1582.8" cy="614.9" rx="2.9" ry="2.7" fill="#424568" opacity="0.6594854318119303" transform="rotate(128.52515011562767 1582.8 614.9)"/>
<ellipse cx="1547.7" cy="608.8" rx="2.0" ry="1.9" fill="#424568" opacity="0.6733791866504337" transform="rotate(145.62508554837467 1547.7 608.8)"/>
<ellipse cx="1547.4" cy="596.3" rx="2.3" ry="2.0" fill="#384076" opacity="0.6330197317089887" transform="rotate(0.33513643980796815 1547.4 596.3)"/>
<ellipse cx="1500.7" cy="616.7" rx="2.2" ry="1.8" fill="#424568" opacity="0.8850832084888818" transform="rotate(108.88552097425715 1500.7 616.7)"/>
<ellipse cx="1564.6" cy="578.7" rx="2.6" ry="2.3" fill="#504c6a" opacity="0.6337371199868619" transform="rotate(124.7306329570634 1564.6 578.7)"/>
<ellipse cx="1517.1" cy="670.8" rx="2.6" ry="2.3" fill="#424568" opacity="0.6106943272393883" transform="rotate(29.956978328326237 1517.1 670.8)"/>
<ellipse cx="1559.3" cy="686.8" rx="2.1" ry="1.8" fill="#424568" opacity="0.674293205039512" transform="rotate(118.22619039685428 1559.3 686.8)"/>
<ellipse cx="1557.7" cy="602.4" rx="2.7" ry="2.3" fill="#2e3878" opacity="0.9265945793122302" transform="rotate(5.847375519378348 1557.7 602.4)"/>
<ellipse cx="1572.8" cy="668.1" rx="2.3" ry="2.0" fill="#504c6a" opacity="0.6843859109245926" transform="rotate(47.31454334657147 1572.8 668.1)"/>
<ellipse cx="1440.0" cy="544.3" rx="2.5" ry="2.7" fill="#464662" opacity="0.6463866142919327" transform="rotate(90.53649676221879 1440.0 544.3)"/>
<ellipse cx="1435.5" cy="547.7" rx="2.8" ry="3.0" fill="#2f376c" opacity="0.8149314732713062" transform="rotate(88.21847820842359 1435.5 547.7)"/>
<ellipse cx="1424.5" cy="535.6" rx="2.1" ry="1.7" fill="#424568" opacity="0.6445207130480175" transform="rotate(47.824791987226014 1424.5 535.6)"/>
<ellipse cx="1465.6" cy="552.4" rx="2.2" ry="2.1" fill="#343c70" opacity="0.7011063375699291" transform="rotate(76.11580600061255 1465.6 552.4)"/>
<ellipse cx="1558.3" cy="632.5" rx="2.3" ry="2.0" fill="#2e3878" opacity="0.8037862246124391" transform="rotate(140.79654498008003 1558.3 632.5)"/>
<ellipse cx="1571.3" cy="685.8" rx="2.6" ry="2.2" fill="#2e3878" opacity="0.8681722769066802" transform="rotate(12.77004786881286 1571.3 685.8)"/>
<ellipse cx="1418.5" cy="570.7" rx="2.3" ry="2.4" fill="#48486a" opacity="0.8412295302359651" transform="rotate(30.88338383734831 1418.5 570.7)"/>
<ellipse cx="1609.5" cy="610.1" rx="2.8" ry="2.9" fill="#4e4460" opacity="0.7178005233782325" transform="rotate(10.186418287444145 1609.5 610.1)"/>
<ellipse cx="1456.4" cy="655.0" rx="2.1" ry="2.2" fill="#464662" opacity="0.8846128243036238" transform="rotate(166.4747229760944 1456.4 655.0)"/>
<ellipse cx="1479.7" cy="572.9" rx="2.9" ry="2.2" fill="#464662" opacity="0.8473629653045369" transform="rotate(57.974107488783716 1479.7 572.9)"/>
<ellipse cx="1431.0" cy="631.1" rx="2.3" ry="2.3" fill="#464662" opacity="0.6116376903202406" transform="rotate(75.85782606140356 1431.0 631.1)"/>
<ellipse cx="1622.4" cy="656.4" rx="2.1" ry="1.8" fill="#464662" opacity="0.7894206520965736" transform="rotate(20.48737128458414 1622.4 656.4)"/>
<ellipse cx="1554.8" cy="536.3" rx="2.0" ry="1.8" fill="#504c6a" opacity="0.9003263346922681" transform="rotate(138.9128837421831 1554.8 536.3)"/>
<ellipse cx="1461.1" cy="611.2" rx="2.1" ry="1.9" fill="#464662" opacity="0.7432724435246343" transform="rotate(126.64406531246976 1461.1 611.2)"/>
<ellipse cx="1568.0" cy="666.0" rx="2.3" ry="2.1" fill="#4e4460" opacity="0.7992720746498179" transform="rotate(135.94237544750763 1568.0 666.0)"/>
<ellipse cx="1453.9" cy="633.9" rx="2.3" ry="2.0" fill="#464662" opacity="0.7075470223771337" transform="rotate(122.40823801799759 1453.9 633.9)"/>
<ellipse cx="1526.5" cy="592.0" rx="3.0" ry="2.8" fill="#4e4460" opacity="0.8422619523856347" transform="rotate(21.58457422129037 1526.5 592.0)"/>
<ellipse cx="1527.6" cy="686.2" rx="2.7" ry="2.0" fill="#48486a" opacity="0.961282103139238" transform="rotate(133.29851155121835 1527.6 686.2)"/>
<ellipse cx="1434.3" cy="651.9" rx="2.9" ry="3.0" fill="#2f376c" opacity="0.6093449612171244" transform="rotate(64.26009630095439 1434.3 651.9)"/>
<ellipse cx="1546.9" cy="561.9" rx="2.7" ry="2.7" fill="#4e4460" opacity="0.6251516159826717" transform="rotate(54.711372708744854 1546.9 561.9)"/>
<ellipse cx="1529.1" cy="629.3" rx="2.5" ry="2.7" fill="#48486a" opacity="0.9079590727819202" transform="rotate(153.0407569293537 1529.1 629.3)"/>
<ellipse cx="1478.4" cy="590.9" rx="2.9" ry="3.1" fill="#4e4460" opacity="0.8318691657298972" transform="rotate(35.23271660984848 1478.4 590.9)"/>
<ellipse cx="1624.7" cy="587.0" rx="2.2" ry="1.7" fill="#424568" opacity="0.745281620591274" transform="rotate(179.97727306456764 1624.7 587.0)"/>
<ellipse cx="1449.3" cy="598.1" rx="2.7" ry="2.6" fill="#2f376c" opacity="0.7186386289169275" transform="rotate(131.3653325266335 1449.3 598.1)"/>
<ellipse cx="1490.6" cy="590.1" rx="2.7" ry="2.4" fill="#464662" opacity="0.7160437482293942" transform="rotate(144.59045170297145 1490.6 590.1)"/>
<ellipse cx="1612.0" cy="581.7" rx="2.7" ry="2.9" fill="#504c6a" opacity="0.9129327878066054" transform="rotate(35.17700378790976 1612.0 581.7)"/>
<ellipse cx="1483.2" cy="639.2" rx="2.7" ry="2.1" fill="#384076" opacity="0.7324994837381308" transform="rotate(49.5732449403252 1483.2 639.2)"/>
<ellipse cx="1465.7" cy="663.5" rx="2.4" ry="2.0" fill="#504c6a" opacity="0.7069081567966253" transform="rotate(20.366056813411845 1465.7 663.5)"/>
<ellipse cx="1623.0" cy="641.8" rx="2.3" ry="2.1" fill="#2f376c" opacity="0.6235644734994427" transform="rotate(28.221946542296372 1623.0 641.8)"/>
<ellipse cx="1449.0" cy="604.2" rx="2.5" ry="2.2" fill="#343c70" opacity="0.7060873805231433" transform="rotate(166.80586766816472 1449.0 604.2)"/>
<ellipse cx="1472.6" cy="668.5" rx="2.4" ry="2.4" fill="#2e3878" opacity="0.7050047660186823" transform="rotate(127.61252307092394 1472.6 668.5)"/>
<ellipse cx="1462.1" cy="565.6" rx="2.2" ry="2.2" fill="#48486a" opacity="0.823424646868451" transform="rotate(45.183656553256704 1462.1 565.6)"/>
<ellipse cx="1548.2" cy="635.9" rx="2.5" ry="2.3" fill="#48486a" opacity="0.7063525820210023" transform="rotate(116.89237732991594 1548.2 635.9)"/>
<ellipse cx="1537.9" cy="610.7" rx="2.7" ry="2.9" fill="#48486a" opacity="0.6392763625432635" transform="rotate(138.7890507745532 1537.9 610.7)"/>
<ellipse cx="1495.8" cy="608.5" rx="2.3" ry="2.0" fill="#504c6a" opacity="0.8558589449686669" transform="rotate(52.042638518754 1495.8 608.5)"/>
<ellipse cx="1572.3" cy="572.5" rx="2.1" ry="1.6" fill="#2e3878" opacity="0.6660245614313276" transform="rotate(31.48839381675 1572.3 572.5)"/>
<ellipse cx="1519.2" cy="640.0" rx="2.2" ry="1.9" fill="#384076" opacity="0.675565576389621" transform="rotate(19.892131890143947 1519.2 640.0)"/>
<ellipse cx="1543.6" cy="648.2" rx="2.4" ry="2.1" fill="#424568" opacity="0.9189402140843405" transform="rotate(64.25250549703621 1543.6 648.2)"/>
<ellipse cx="1417.7" cy="676.3" rx="2.7" ry="2.6" fill="#384076" opacity="0.7953017973679816" transform="rotate(28.564359948713175 1417.7 676.3)"/>
<ellipse cx="1495.5" cy="688.6" rx="2.0" ry="1.9" fill="#4e4460" opacity="0.7029943508220846" transform="rotate(129.88960842788111 1495.5 688.6)"/>
<ellipse cx="1500.5" cy="542.6" rx="2.9" ry="2.4" fill="#343c70" opacity="0.8803112796237564" transform="rotate(34.56746475888114 1500.5 542.6)"/>
<ellipse cx="1423.2" cy="552.9" rx="2.8" ry="2.9" fill="#2e3878" opacity="0.7384868613458095" transform="rotate(104.6451745901425 1423.2 552.9)"/>
<ellipse cx="1477.9" cy="559.6" rx="2.9" ry="2.5" fill="#424568" opacity="0.7915654171386941" transform="rotate(118.05380734807508 1477.9 559.6)"/>
<ellipse cx="1516.8" cy="630.2" rx="2.4" ry="2.3" fill="#504c6a" opacity="0.6404572396244219" transform="rotate(9.789034272729156 1516.8 630.2)"/>
<ellipse cx="1610.9" cy="557.6" rx="2.5" ry="2.1" fill="#2f376c" opacity="0.6431541713836704" transform="rotate(40.402494968634834 1610.9 557.6)"/>
<ellipse cx="1461.0" cy="671.5" rx="2.1" ry="1.8" fill="#343c70" opacity="0.8830183013390397" transform="rotate(24.492601614438367 1461.0 671.5)"/>
<ellipse cx="1490.6" cy="564.4" rx="2.0" ry="1.6" fill="#464662" opacity="0.7483415672710718" transform="rotate(179.726044387214 1490.6 564.4)"/>
<ellipse cx="1526.0" cy="678.9" rx="2.7" ry="2.3" fill="#343c70" opacity="0.8056267098523753" transform="rotate(100.41980774385836 1526.0 678.9)"/>
<ellipse cx="1451.9" cy="667.9" rx="2.8" ry="2.5" fill="#504c6a" opacity="0.8808538613007102" transform="rotate(131.99608961178424 1451.9 667.9)"/>
<ellipse cx="1549.5" cy="603.8" rx="2.4" ry="1.8" fill="#504c6a" opacity="0.7918874180430423" transform="rotate(50.12562892178214 1549.5 603.8)"/>
<ellipse cx="1417.1" cy="613.1" rx="2.8" ry="2.3" fill="#2e3878" opacity="0.6837631664556161" transform="rotate(38.204159826307034 1417.1 613.1)"/>
<ellipse cx="1488.9" cy="598.1" rx="2.4" ry="2.6" fill="#464662" opacity="0.8855681277458063" transform="rotate(168.75573382129323 1488.9 598.1)"/>
<ellipse cx="1532.0" cy="668.6" rx="2.7" ry="2.2" fill="#424568" opacity="0.7827596140915561" transform="rotate(26.431071855857418 1532.0 668.6)"/>
<ellipse cx="1529.4" cy="621.1" rx="2.1" ry="2.2" fill="#464662" opacity="0.8890370288308496" transform="rotate(165.90107714942138 1529.4 621.1)"/>
<ellipse cx="1592.7" cy="593.7" rx="2.7" ry="2.2" fill="#343c70" opacity="0.718666243711124" transform="rotate(88.51940228853248 1592.7 593.7)"/>
<ellipse cx="1417.7" cy="661.3" rx="2.9" ry="3.1" fill="#424568" opacity="0.6664287862211826" transform="rotate(35.658865411872696 1417.7 661.3)"/>
<ellipse cx="1623.2" cy="569.4" rx="2.8" ry="3.0" fill="#48486a" opacity="0.951172909799187" transform="rotate(116.153861083198 1623.2 569.4)"/>
<ellipse cx="1571.3" cy="617.9" rx="2.7" ry="2.3" fill="#2f376c" opacity="0.9286405676081764" transform="rotate(146.7703984745297 1571.3 617.9)"/>
<ellipse cx="1577.8" cy="642.3" rx="2.6" ry="2.5" fill="#2e3878" opacity="0.7367967757179413" transform="rotate(78.24188884882047 1577.8 642.3)"/>
<ellipse cx="1473.5" cy="547.4" rx="2.2" ry="1.9" fill="#48486a" opacity="0.8616211116030954" transform="rotate(90.28230881422067 1473.5 547.4)"/>
<ellipse cx="1620.0" cy="556.7" rx="2.6" ry="2.1" fill="#48486a" opacity="0.6339626463566621" transform="rotate(5.9652448725828 1620.0 556.7)"/>
<ellipse cx="1588.3" cy="671.5" rx="2.9" ry="2.4" fill="#504c6a" opacity="0.6301297160857525" transform="rotate(85.10039221484884 1588.3 671.5)"/>
<ellipse cx="1472.6" cy="625.1" rx="2.6" ry="2.6" fill="#343c70" opacity="0.8737808536172079" transform="rotate(89.60346325215794 1472.6 625.1)"/>
<ellipse cx="1587.8" cy="654.1" rx="2.7" ry="2.3" fill="#4e4460" opacity="0.9582127925818542" transform="rotate(178.20430248829814 1587.8 654.1)"/>
<ellipse cx="1473.2" cy="654.8" rx="2.3" ry="2.4" fill="#2f376c" opacity="0.8094352441740394" transform="rotate(69.50195833376037 1473.2 654.8)"/>
<ellipse cx="1504.7" cy="561.3" rx="2.4" ry="2.5" fill="#2e3878" opacity="0.7511009502216436" transform="rotate(41.02945665077849 1504.7 561.3)"/>
<ellipse cx="1432.5" cy="612.5" rx="2.6" ry="2.1" fill="#384076" opacity="0.9103311838255472" transform="rotate(121.70872671846571 1432.5 612.5)"/>
<ellipse cx="1525.2" cy="691.8" rx="2.7" ry="2.7" fill="#48486a" opacity="0.9453234135431521" transform="rotate(50.71263960601468 1525.2 691.8)"/>
<ellipse cx="1604.9" cy="581.9" rx="2.4" ry="2.0" fill="#424568" opacity="0.6879602504837901" transform="rotate(35.40307552126584 1604.9 581.9)"/>
<ellipse cx="1598.0" cy="584.6" rx="2.7" ry="2.3" fill="#2e3878" opacity="0.9207429291960529" transform="rotate(167.89858428130103 1598.0 584.6)"/>
<ellipse cx="1424.7" cy="585.0" rx="2.3" ry="2.5" fill="#384076" opacity="0.6451026424080541" transform="rotate(35.306951693919736 1424.7 585.0)"/>
<ellipse cx="1610.7" cy="639.8" rx="2.9" ry="2.9" fill="#343c70" opacity="0.690539555158513" transform="rotate(167.1383504445958 1610.7 639.8)"/>
<ellipse cx="1562.8" cy="566.9" rx="2.5" ry="2.1" fill="#343c70" opacity="0.9060107036075271" transform="rotate(113.90255473684178 1562.8 566.9)"/>
<ellipse cx="1586.7" cy="642.6" rx="2.3" ry="1.8" fill="#424568" opacity="0.7651209244078554" transform="rotate(60.91514885442789 1586.7 642.6)"/>
<ellipse cx="1578.3" cy="604.0" rx="2.3" ry="2.0" fill="#2e3878" opacity="0.8387116463890933" transform="rotate(136.93155255500074 1578.3 604.0)"/>
<ellipse cx="1423.5" cy="687.3" rx="2.2" ry="2.1" fill="#48486a" opacity="0.6195286076221268" transform="rotate(29.105356310821474 1423.5 687.3)"/>
<ellipse cx="1552.9" cy="610.9" rx="2.5" ry="1.9" fill="#343c70" opacity="0.954186045991082" transform="rotate(109.96778164320476 1552.9 610.9)"/>
<ellipse cx="1455.8" cy="569.3" rx="2.4" ry="1.9" fill="#464662" opacity="0.8626561928675303" transform="rotate(134.10605687591493 1455.8 569.3)"/>
<ellipse cx="1426.8" cy="549.3" rx="2.4" ry="2.4" fill="#48486a" opacity="0.9185592564964504" transform="rotate(176.72602252677805 1426.8 549.3)"/>
<ellipse cx="1514.4" cy="677.3" rx="2.9" ry="2.4" fill="#2f376c" opacity="0.7105376016930515" transform="rotate(145.4050466912585 1514.4 677.3)"/>
<ellipse cx="1592.4" cy="642.4" rx="2.2" ry="2.0" fill="#384076" opacity="0.7951451326992843" transform="rotate(28.601185930189846 1592.4 642.4)"/>
<ellipse cx="1538.1" cy="561.2" rx="2.4" ry="2.1" fill="#504c6a" opacity="0.9008209226395537" transform="rotate(176.86912608660543 1538.1 561.2)"/>
<ellipse cx="1482.3" cy="691.9" rx="2.8" ry="2.7" fill="#464662" opacity="0.8234640625846867" transform="rotate(177.58192788509675 1482.3 691.9)"/>
<ellipse cx="1455.1" cy="687.9" rx="2.3" ry="2.4" fill="#464662" opacity="0.8256826609697218" transform="rotate(160.829014203471 1455.1 687.9)"/>
<ellipse cx="1443.1" cy="620.7" rx="2.0" ry="1.7" fill="#464662" opacity="0.9646312503191306" transform="rotate(131.35286957783265 1443.1 620.7)"/>
<ellipse cx="1462.1" cy="650.8" rx="2.6" ry="2.7" fill="#48486a" opacity="0.7882258856295388" transform="rotate(82.39995807558729 1462.1 650.8)"/>
<ellipse cx="1446.4" cy="548.4" rx="2.1" ry="2.1" fill="#4e4460" opacity="0.8776109037090695" transform="rotate(76.16778816985843 1446.4 548.4)"/>
<ellipse cx="1529.3" cy="573.8" rx="2.2" ry="2.3" fill="#2f376c" opacity="0.9336887111537301" transform="rotate(96.94233199768686 1529.3 573.8)"/>
<ellipse cx="1605.5" cy="535.6" rx="2.9" ry="2.4" fill="#464662" opacity="0.7485799093020635" transform="rotate(175.13600703331917 1605.5 535.6)"/>
<ellipse cx="1568.7" cy="556.7" rx="2.6" ry="2.5" fill="#504c6a" opacity="0.7039178852585809" transform="rotate(143.64123786232975 1568.7 556.7)"/>
<ellipse cx="1505.9" cy="681.3" rx="2.8" ry="2.9" fill="#48486a" opacity="0.661535757491968" transform="rotate(136.97906633276577 1505.9 681.3)"/>
<ellipse cx="1591.2" cy="619.8" rx="2.1" ry="1.7" fill="#48486a" opacity="0.9074239549736705" transform="rotate(81.13869945408659 1591.2 619.8)"/>
<ellipse cx="1429.5" cy="576.7" rx="2.1" ry="1.7" fill="#48486a" opacity="0.7446869743495821" transform="rotate(172.69763915036728 1429.5 576.7)"/>
<ellipse cx="1468.5" cy="649.3" rx="2.9" ry="2.7" fill="#424568" opacity="0.8340547199125701" transform="rotate(79.90560161745076 1468.5 649.3)"/>
<ellipse cx="1437.8" cy="639.2" rx="2.0" ry="2.2" fill="#2e3878" opacity="0.907463750311639" transform="rotate(115.19994038535305 1437.8 639.2)"/>
<ellipse cx="1448.5" cy="629.2" rx="2.3" ry="2.1" fill="#343c70" opacity="0.7660808764899915" transform="rotate(179.53045792685012 1448.5 629.2)"/>
<ellipse cx="1570.4" cy="674.4" rx="2.8" ry="2.7" fill="#2e3878" opacity="0.7940763365118307" transform="rotate(64.49179032948477 1570.4 674.4)"/>
<ellipse cx="1505.2" cy="691.4" rx="2.5" ry="2.4" fill="#4e4460" opacity="0.8462499507730186" transform="rotate(14.787037956327131 1505.2 691.4)"/>
<ellipse cx="1624.9" cy="551.2" rx="2.6" ry="2.8" fill="#424568" opacity="0.815912752817763" transform="rotate(143.85331885777393 1624.9 551.2)"/>
<ellipse cx="1575.9" cy="610.4" rx="2.7" ry="2.3" fill="#2e3878" opacity="0.9026582489630497" transform="rotate(77.3566876141483 1575.9 610.4)"/>
<ellipse cx="1413.4" cy="547.9" rx="2.2" ry="1.8" fill="#2f376c" opacity="0.8063600482605969" transform="rotate(126.22244526935455 1413.4 547.9)"/>
<ellipse cx="1596.1" cy="680.4" rx="2.9" ry="2.4" fill="#424568" opacity="0.9351460435236874" transform="rotate(176.75869621843316 1596.1 680.4)"/>
<ellipse cx="1551.7" cy="644.7" rx="2.7" ry="2.9" fill="#464662" opacity="0.6549326291261586" transform="rotate(162.10548152215782 1551.7 644.7)"/>
<ellipse cx="1507.2" cy="644.0" rx="2.7" ry="2.8" fill="#2e3878" opacity="0.7264572642058947" transform="rotate(130.39694646380389 1507.2 644.0)"/>
<ellipse cx="1478.9" cy="581.8" rx="2.7" ry="2.4" fill="#504c6a" opacity="0.9007200800106652" transform="rotate(138.80633176072845 1478.9 581.8)"/>
<ellipse cx="1567.3" cy="541.8" rx="2.7" ry="2.1" fill="#464662" opacity="0.7150601655403777" transform="rotate(11.513492861692002 1567.3 541.8)"/>
<ellipse cx="1479.1" cy="648.1" rx="2.4" ry="2.4" fill="#343c70" opacity="0.9511135565797026" transform="rotate(57.903027784239406 1479.1 648.1)"/>
<ellipse cx="1449.5" cy="555.9" rx="2.2" ry="1.6" fill="#2f376c" opacity="0.6599459529620033" transform="rotate(173.59638608102298 1449.5 555.9)"/>
<ellipse cx="1622.9" cy="535.2" rx="2.3" ry="1.8" fill="#2e3878" opacity="0.8522988704733815" transform="rotate(19.706257559495914 1622.9 535.2)"/>
<ellipse cx="1510.8" cy="591.0" rx="2.7" ry="2.3" fill="#2f376c" opacity="0.9279086526653778" transform="rotate(172.49606278687824 1510.8 591.0)"/>
<ellipse cx="1435.5" cy="601.9" rx="2.9" ry="3.1" fill="#2f376c" opacity="0.8311383103553479" transform="rotate(30.12375276184194 1435.5 601.9)"/>
<ellipse cx="1621.6" cy="664.1" rx="2.6" ry="2.5" fill="#2e3878" opacity="0.7198109839302274" transform="rotate(71.44337732974475 1621.6 664.1)"/>
<ellipse cx="1580.9" cy="619.7" rx="2.8" ry="2.9" fill="#343c70" opacity="0.9028891149963398" transform="rotate(139.12969837818127 1580.9 619.7)"/>
<ellipse cx="1431.2" cy="567.9" rx="2.7" ry="2.5" fill="#343c70" opacity="0.8450443047626579" transform="rotate(7.702752419562273 1431.2 567.9)"/>
<ellipse cx="1544.9" cy="548.8" rx="2.4" ry="2.5" fill="#424568" opacity="0.7759309580274458" transform="rotate(89.74498121077986 1544.9 548.8)"/>
<ellipse cx="1514.2" cy="556.2" rx="2.8" ry="2.6" fill="#504c6a" opacity="0.8264882102407536" transform="rotate(56.71028938873389 1514.2 556.2)"/>
<ellipse cx="1450.4" cy="613.6" rx="2.9" ry="2.4" fill="#424568" opacity="0.7490421830021483" transform="rotate(124.10298117687847 1450.4 613.6)"/>
<ellipse cx="1513.2" cy="542.5" rx="2.3" ry="1.7" fill="#464662" opacity="0.7240863676557834" transform="rotate(17.100803389193707 1513.2 542.5)"/>
<ellipse cx="1568.7" cy="656.8" rx="2.5" ry="2.6" fill="#384076" opacity="0.8887042063691256" transform="rotate(52.26909455401412 1568.7 656.8)"/>
<ellipse cx="1425.3" cy="676.8" rx="3.0" ry="3.1" fill="#4e4460" opacity="0.7807207901818753" transform="rotate(36.41278145061089 1425.3 676.8)"/>
<ellipse cx="1578.0" cy="626.8" rx="2.0" ry="1.6" fill="#424568" opacity="0.7400533412239315" transform="rotate(88.80313628607652 1578.0 626.8)"/>
<ellipse cx="1529.0" cy="598.9" rx="2.7" ry="2.1" fill="#2f376c" opacity="0.7795202163883546" transform="rotate(141.7469363814429 1529.0 598.9)"/>
<ellipse cx="1546.1" cy="627.9" rx="2.1" ry="1.9" fill="#504c6a" opacity="0.807400315715334" transform="rotate(113.41585324697273 1546.1 627.9)"/>
<ellipse cx="1565.7" cy="571.6" rx="2.7" ry="2.4" fill="#424568" opacity="0.8098965584879498" transform="rotate(107.0967367594347 1565.7 571.6)"/>
<ellipse cx="1514.9" cy="618.2" rx="3.0" ry="2.3" fill="#384076" opacity="0.8113493446629436" transform="rotate(21.97472667676739 1514.9 618.2)"/>
<ellipse cx="1448.8" cy="623.6" rx="2.9" ry="3.0" fill="#2f376c" opacity="0.928248923122038" transform="rotate(86.38618400810938 1448.8 623.6)"/>
<ellipse cx="1460.0" cy="629.5" rx="2.7" ry="2.8" fill="#2f376c" opacity="0.8251308747640332" transform="rotate(177.56988552254901 1460.0 629.5)"/>
<ellipse cx="1500.0" cy="604.0" rx="2.3" ry="2.1" fill="#384076" opacity="0.686362094695789" transform="rotate(40.331403216791685 1500.0 604.0)"/>
<ellipse cx="1557.6" cy="681.8" rx="2.9" ry="2.8" fill="#464662" opacity="0.8751565607672649" transform="rotate(99.44416197114 1557.6 681.8)"/>
<ellipse cx="1609.8" cy="550.8" rx="2.3" ry="2.0" fill="#464662" opacity="0.7025492794880133" transform="rotate(116.48086923879731 1609.8 550.8)"/>
<ellipse cx="1564.6" cy="624.1" rx="2.3" ry="2.1" fill="#384076" opacity="0.717351031828444" transform="rotate(90.9538176430484 1564.6 624.1)"/>
<ellipse cx="1509.6" cy="639.1" rx="2.1" ry="1.6" fill="#504c6a" opacity="0.7251918434388964" transform="rotate(10.355689658890089 1509.6 639.1)"/>
<ellipse cx="1596.8" cy="619.8" rx="2.1" ry="2.0" fill="#384076" opacity="0.8200620439134828" transform="rotate(4.610552476514462 1596.8 619.8)"/>
<ellipse cx="1603.0" cy="544.2" rx="2.4" ry="2.3" fill="#504c6a" opacity="0.6879325033770253" transform="rotate(139.80071725684974 1603.0 544.2)"/>
<ellipse cx="1507.6" cy="661.6" rx="2.6" ry="2.1" fill="#424568" opacity="0.6142394643041398" transform="rotate(122.21058100427743 1507.6 661.6)"/>
<ellipse cx="1573.3" cy="594.3" rx="2.9" ry="2.2" fill="#384076" opacity="0.8162461145490474" transform="rotate(61.58688577147739 1573.3 594.3)"/>
<ellipse cx="1438.5" cy="595.4" rx="2.8" ry="2.1" fill="#2f376c" opacity="0.761200979627136" transform="rotate(56.00648440442921 1438.5 595.4)"/>
<ellipse cx="1589.3" cy="613.5" rx="2.6" ry="2.6" fill="#504c6a" opacity="0.9340206033393813" transform="rotate(103.03001104527259 1589.3 613.5)"/>
<ellipse cx="1554.7" cy="543.3" rx="2.0" ry="1.7" fill="#48486a" opacity="0.6085331363469597" transform="rotate(12.446303298631891 1554.7 543.3)"/>
<ellipse cx="1613.6" cy="587.1" rx="2.8" ry="3.0" fill="#384076" opacity="0.6120028942641108" transform="rotate(89.14769286777847 1613.6 587.1)"/>
<ellipse cx="1585.8" cy="548.1" rx="3.0" ry="3.0" fill="#424568" opacity="0.8787770893019926" transform="rotate(37.99013186251719 1585.8 548.1)"/>
<ellipse cx="1619.0" cy="670.8" rx="2.3" ry="2.1" fill="#2f376c" opacity="0.6046879045970548" transform="rotate(131.57158778807826 1619.0 670.8)"/>
<ellipse cx="1414.7" cy="687.6" rx="2.7" ry="2.5" fill="#4e4460" opacity="0.6387742725458827" transform="rotate(167.45983684418405 1414.7 687.6)"/>
<ellipse cx="1572.9" cy="562.2" rx="2.7" ry="2.8" fill="#2e3878" opacity="0.9205256092194406" transform="rotate(33.946100684907975 1572.9 562.2)"/>
<ellipse cx="1538.2" cy="633.6" rx="2.7" ry="2.0" fill="#2f376c" opacity="0.7519334194778624" transform="rotate(8.664425189628751 1538.2 633.6)"/>
<ellipse cx="1532.3" cy="662.0" rx="2.0" ry="1.8" fill="#424568" opacity="0.9213636334879569" transform="rotate(162.02057363353643 1532.3 662.0)"/>
<ellipse cx="1509.2" cy="584.4" rx="2.4" ry="2.2" fill="#48486a" opacity="0.9021905987297842" transform="rotate(117.08918359783027 1509.2 584.4)"/>
<ellipse cx="1580.8" cy="653.3" rx="2.6" ry="2.2" fill="#343c70" opacity="0.8745242425228981" transform="rotate(118.55495789457044 1580.8 653.3)"/>
<ellipse cx="1536.5" cy="553.9" rx="2.1" ry="2.3" fill="#343c70" opacity="0.8446423176798082" transform="rotate(134.70812205208045 1536.5 553.9)"/>
<ellipse cx="1436.0" cy="626.8" rx="2.2" ry="2.4" fill="#48486a" opacity="0.9428085484372313" transform="rotate(111.71789557089724 1436.0 626.8)"/>
<ellipse cx="1616.5" cy="577.1" rx="2.9" ry="2.8" fill="#343c70" opacity="0.6160621290388182" transform="rotate(80.95372703752929 1616.5 577.1)"/>
<ellipse cx="1549.9" cy="585.9" rx="2.5" ry="2.5" fill="#384076" opacity="0.620242078985679" transform="rotate(80.39952359057169 1549.9 585.9)"/>
<ellipse cx="1602.7" cy="576.6" rx="3.0" ry="2.3" fill="#424568" opacity="0.8844379469661171" transform="rotate(139.5188301931939 1602.7 576.6)"/>
<ellipse cx="1444.0" cy="675.0" rx="2.2" ry="2.4" fill="#464662" opacity="0.7428623966089686" transform="rotate(68.68689997375267 1444.0 675.0)"/>
<ellipse cx="1414.7" cy="626.3" rx="2.3" ry="2.5" fill="#48486a" opacity="0.6903345918055899" transform="rotate(93.99662222925784 1414.7 626.3)"/>
<ellipse cx="1519.9" cy="634.5" rx="2.0" ry="2.1" fill="#424568" opacity="0.6883816695179454" transform="rotate(150.09435326977325 1519.9 634.5)"/>
<ellipse cx="1437.5" cy="607.3" rx="2.5" ry="2.5" fill="#48486a" opacity="0.6926722941189545" transform="rotate(67.10612553505956 1437.5 607.3)"/>
<ellipse cx="1570.7" cy="629.8" rx="2.4" ry="2.4" fill="#48486a" opacity="0.65852211151495" transform="rotate(154.09899771897852 1570.7 629.8)"/>
<ellipse cx="1477.4" cy="664.9" rx="2.7" ry="2.6" fill="#343c70" opacity="0.8946340943250919" transform="rotate(21.241525122651908 1477.4 664.9)"/>
<ellipse cx="1565.4" cy="600.4" rx="2.0" ry="2.1" fill="#2f376c" opacity="0.9327431861984237" transform="rotate(150.64101828496564 1565.4 600.4)"/>
<ellipse cx="1602.7" cy="632.1" rx="2.3" ry="2.2" fill="#384076" opacity="0.6228193776573412" transform="rotate(8.865901447415816 1602.7 632.1)"/>
<ellipse cx="1543.0" cy="617.7" rx="2.5" ry="2.2" fill="#48486a" opacity="0.9475525993477387" transform="rotate(39.482592189630715 1543.0 617.7)"/>
<ellipse cx="1511.3" cy="562.1" rx="2.8" ry="2.5" fill="#464662" opacity="0.8516417801474718" transform="rotate(1.8637232515255042 1511.3 562.1)"/>
<ellipse cx="1485.7" cy="616.1" rx="2.5" ry="2.3" fill="#343c70" opacity="0.6697704206898862" transform="rotate(122.83129620183422 1485.7 616.1)"/>
<ellipse cx="1480.3" cy="548.7" rx="2.1" ry="2.2" fill="#48486a" opacity="0.8261833216029675" transform="rotate(81.95061443837986 1480.3 548.7)"/>
<ellipse cx="1534.4" cy="569.3" rx="2.7" ry="2.0" fill="#424568" opacity="0.9350809031719314" transform="rotate(104.91601720698297 1534.4 569.3)"/>
<ellipse cx="1472.1" cy="605.2" rx="2.0" ry="1.6" fill="#504c6a" opacity="0.6703174196356099" transform="rotate(126.09205389022438 1472.1 605.2)"/>
<ellipse cx="1542.6" cy="569.4" rx="2.1" ry="1.7" fill="#384076" opacity="0.7490967622321139" transform="rotate(68.63319616586676 1542.6 569.4)"/>
<ellipse cx="1552.4" cy="623.7" rx="2.6" ry="2.0" fill="#2f376c" opacity="0.9498525187640592" transform="rotate(143.1457783603926 1552.4 623.7)"/>
<ellipse cx="1440.9" cy="613.4" rx="2.5" ry="2.3" fill="#2f376c" opacity="0.6293152223517902" transform="rotate(59.51441716116999 1440.9 613.4)"/>
<ellipse cx="1502.6" cy="636.1" rx="2.8" ry="2.5" fill="#464662" opacity="0.9212281530106472" transform="rotate(60.96151238413265 1502.6 636.1)"/>
<ellipse cx="1460.5" cy="572.7" rx="3.0" ry="2.3" fill="#464662" opacity="0.61380474256384" transform="rotate(113.23692749141723 1460.5 572.7)"/>
<ellipse cx="1460.8" cy="623.4" rx="2.6" ry="2.2" fill="#48486a" opacity="0.7574585117174262" transform="rotate(151.81173634719687 1460.8 623.4)"/>
<ellipse cx="1597.8" cy="650.3" rx="2.3" ry="2.0" fill="#48486a" opacity="0.7080487946665576" transform="rotate(90.946646577388 1597.8 650.3)"/>
<ellipse cx="1615.6" cy="553.6" rx="2.0" ry="1.8" fill="#384076" opacity="0.7454254275445135" transform="rotate(34.18566362629163 1615.6 553.6)"/>
<ellipse cx="1605.1" cy="640.2" rx="3.0" ry="3.3" fill="#48486a" opacity="0.7544750947453378" transform="rotate(125.62491391523373 1605.1 640.2)"/>
<ellipse cx="1434.1" cy="682.6" rx="2.1" ry="1.8" fill="#4e4460" opacity="0.8420565338203867" transform="rotate(47.20598499664319 1434.1 682.6)"/>
<ellipse cx="1575.7" cy="537.9" rx="2.5" ry="2.6" fill="#2e3878" opacity="0.8989136206613921" transform="rotate(75.09385071612107 1575.7 537.9)"/>
<ellipse cx="1521.1" cy="588.4" rx="2.4" ry="2.1" fill="#384076" opacity="0.772697706298968" transform="rotate(170.51274870960322 1521.1 588.4)"/>
<ellipse cx="1509.7" cy="537.5" rx="2.9" ry="2.2" fill="#424568" opacity="0.8210348754884144" transform="rotate(97.30002382908597 1509.7 537.5)"/>
<ellipse cx="1523.6" cy="650.8" rx="2.2" ry="2.0" fill="#2e3878" opacity="0.9372469644581498" transform="rotate(32.60048717191795 1523.6 650.8)"/>
<ellipse cx="1584.9" cy="634.1" rx="2.3" ry="1.9" fill="#504c6a" opacity="0.7383086087856578" transform="rotate(36.72000402600145 1584.9 634.1)"/>
<ellipse cx="1585.5" cy="596.9" rx="2.7" ry="2.1" fill="#384076" opacity="0.6650195792409244" transform="rotate(158.82956326192087 1585.5 596.9)"/>
<ellipse cx="1610.0" cy="691.9" rx="2.2" ry="2.1" fill="#4e4460" opacity="0.776318942207799" transform="rotate(120.64542057023972 1610.0 691.9)"/>
<ellipse cx="1603.5" cy="679.1" rx="2.3" ry="2.2" fill="#2e3878" opacity="0.6001615652341327" transform="rotate(35.800001953168945 1603.5 679.1)"/>
<ellipse cx="1602.3" cy="666.0" rx="2.2" ry="1.8" fill="#424568" opacity="0.934447517227404" transform="rotate(147.85290681703765 1602.3 666.0)"/>
<ellipse cx="1538.2" cy="623.6" rx="2.3" ry="2.1" fill="#384076" opacity="0.7504214558180333" transform="rotate(9.800942646932624 1538.2 623.6)"/>
<ellipse cx="1482.2" cy="657.1" rx="3.0" ry="3.0" fill="#424568" opacity="0.8782745854122647" transform="rotate(4.832938125971966 1482.2 657.1)"/>
<ellipse cx="1417.1" cy="600.1" rx="2.8" ry="2.3" fill="#424568" opacity="0.71533269295956" transform="rotate(158.68185595482893 1417.1 600.1)"/>
<ellipse cx="1551.3" cy="678.4" rx="2.3" ry="2.0" fill="#424568" opacity="0.9592808333759875" transform="rotate(9.877074548368377 1551.3 678.4)"/>
<ellipse cx="1466.0" cy="629.9" rx="2.8" ry="2.4" fill="#464662" opacity="0.9661469672070098" transform="rotate(16.353596356320242 1466.0 629.9)"/>
<ellipse cx="1502.5" cy="623.0" rx="2.3" ry="2.5" fill="#504c6a" opacity="0.7220493184716033" transform="rotate(48.98482134332835 1502.5 623.0)"/>
<ellipse cx="1589.8" cy="693.4" rx="2.6" ry="2.3" fill="#48486a" opacity="0.8638287423433493" transform="rotate(170.43191559887816 1589.8 693.4)"/>
<ellipse cx="1544.5" cy="536.0" rx="2.7" ry="2.8" fill="#48486a" opacity="0.9511610204848913" transform="rotate(71.5686233049089 1544.5 536.0)"/>
<ellipse cx="1488.8" cy="666.7" rx="2.1" ry="1.7" fill="#48486a" opacity="0.6938045975098014" transform="rotate(171.90534822659257 1488.8 666.7)"/>
<ellipse cx="1474.6" cy="639.9" rx="2.9" ry="2.3" fill="#48486a" opacity="0.8159377378225412" transform="rotate(51.011937710418565 1474.6 639.9)"/>
<ellipse cx="1530.9" cy="613.2" rx="2.9" ry="2.5" fill="#4e4460" opacity="0.6914998479863932" transform="rotate(131.88312266888335 1530.9 613.2)"/>
<ellipse cx="1596.8" cy="547.0" rx="2.3" ry="1.9" fill="#4e4460" opacity="0.9479487920413454" transform="rotate(109.3022838209961 1596.8 547.0)"/>
<ellipse cx="1581.3" cy="544.5" rx="2.4" ry="2.6" fill="#464662" opacity="0.650675989381034" transform="rotate(162.30810356921458 1581.3 544.5)"/>
<ellipse cx="1603.3" cy="554.3" rx="2.3" ry="2.0" fill="#2f376c" opacity="0.7947712433908815" transform="rotate(42.71171017753985 1603.3 554.3)"/>
<ellipse cx="1417.6" cy="561.5" rx="2.2" ry="2.2" fill="#48486a" opacity="0.9427073960089992" transform="rotate(166.10070471206853 1417.6 561.5)"/>
<ellipse cx="1593.1" cy="541.9" rx="2.8" ry="2.6" fill="#48486a" opacity="0.900068596307074" transform="rotate(66.57046610245628 1593.1 541.9)"/>
<ellipse cx="1443.6" cy="565.2" rx="2.7" ry="2.2" fill="#4e4460" opacity="0.8114873098874702" transform="rotate(83.74007254612316 1443.6 565.2)"/>
<ellipse cx="1423.5" cy="648.1" rx="2.7" ry="2.9" fill="#4e4460" opacity="0.7613310619530729" transform="rotate(62.676132456747965 1423.5 648.1)"/>
<ellipse cx="1595.8" cy="552.6" rx="2.8" ry="2.4" fill="#4e4460" opacity="0.6860288733399178" transform="rotate(131.1468247376857 1595.8 552.6)"/>
<ellipse cx="1466.2" cy="586.0" rx="2.1" ry="1.9" fill="#2f376c" opacity="0.8801011062919133" transform="rotate(76.52735935266601 1466.2 586.0)"/>
<ellipse cx="1517.0" cy="659.2" rx="2.5" ry="2.0" fill="#2f376c" opacity="0.744323290447697" transform="rotate(66.05175698960832 1517.0 659.2)"/>
<ellipse cx="1466.6" cy="571.4" rx="2.7" ry="2.9" fill="#4e4460" opacity="0.8133784390680973" transform="rotate(43.25270321176026 1466.6 571.4)"/>
<ellipse cx="1458.1" cy="618.7" rx="2.2" ry="1.7" fill="#504c6a" opacity="0.8770499493756456" transform="rotate(137.4797451096757 1458.1 618.7)"/>
<ellipse cx="1413.4" cy="554.9" rx="2.7" ry="2.8" fill="#2f376c" opacity="0.6409370395600281" transform="rotate(26.381219430000595 1413.4 554.9)"/>
<ellipse cx="1595.9" cy="605.3" rx="2.1" ry="1.9" fill="#343c70" opacity="0.6750515316458633" transform="rotate(33.373987401047636 1595.9 605.3)"/>
<ellipse cx="1536.7" cy="693.4" rx="2.4" ry="2.4" fill="#2f376c" opacity="0.7755793182081959" transform="rotate(3.6511278158463645 1536.7 693.4)"/>
<ellipse cx="1560.7" cy="585.0" rx="2.9" ry="2.2" fill="#2e3878" opacity="0.9630180864278755" transform="rotate(72.15449313327025 1560.7 585.0)"/>
<ellipse cx="1549.7" cy="551.8" rx="2.8" ry="2.3" fill="#424568" opacity="0.7907595664496251" transform="rotate(43.96138284107183 1549.7 551.8)"/>
<ellipse cx="1568.7" cy="587.6" rx="2.3" ry="2.2" fill="#2f376c" opacity="0.7795758904338491" transform="rotate(7.8319573543185435 1568.7 587.6)"/>
<ellipse cx="1486.9" cy="632.6" rx="2.9" ry="2.4" fill="#343c70" opacity="0.9656831615299251" transform="rotate(30.6407139154327 1486.9 632.6)"/>
<ellipse cx="1591.8" cy="686.3" rx="2.9" ry="2.5" fill="#464662" opacity="0.7324810132230622" transform="rotate(174.25274794198253 1591.8 686.3)"/>
<ellipse cx="1443.6" cy="626.6" rx="2.1" ry="2.3" fill="#384076" opacity="0.8498743075236735" transform="rotate(130.6034189969097 1443.6 626.6)"/>
<ellipse cx="1501.3" cy="652.3" rx="2.9" ry="2.5" fill="#2f376c" opacity="0.6378598643041297" transform="rotate(15.809038197715882 1501.3 652.3)"/>
<ellipse cx="1507.2" cy="575.7" rx="2.2" ry="1.8" fill="#2e3878" opacity="0.8665091890570829" transform="rotate(112.40268853551282 1507.2 575.7)"/>
<ellipse cx="1521.7" cy="552.6" rx="2.0" ry="1.7" fill="#2f376c" opacity="0.8816045631600214" transform="rotate(154.8372761081095 1521.7 552.6)"/>
<ellipse cx="1521.6" cy="605.6" rx="2.3" ry="2.2" fill="#504c6a" opacity="0.6769130911569308" transform="rotate(120.30998554911412 1521.6 605.6)"/>
<ellipse cx="1595.8" cy="613.0" rx="2.2" ry="1.9" fill="#384076" opacity="0.7079319164298826" transform="rotate(140.51094342441934 1595.8 613.0)"/>
<ellipse cx="1489.6" cy="677.1" rx="3.0" ry="2.4" fill="#2f376c" opacity="0.6114525598374795" transform="rotate(24.038785586841264 1489.6 677.1)"/>
</g>
</g>
<text x="1590" y="687.5" font-size="4.5" fill="#5a4a40" opacity="0.8">50 μm</text>
<line x1="1576" y1="688.6" x2="1607" y2="688.6" stroke="#4a3a30" stroke-width="0.5" stroke-linecap="butt"/>
<path d="M1453.7 588.9 H1524.2 V640.6 H1453.7 Z" fill="none" stroke="#000" stroke-width="3.9" stroke-linejoin="miter" stroke-linecap="butt" stroke-dasharray="3.9 3.7"/>
<path d="M1453.7 640.6 L1414.0 692.3" fill="none" stroke="#000" stroke-width="3.6" stroke-linejoin="miter" stroke-linecap="butt" stroke-dasharray="3.6 3.4"/>
<path d="M1524.2 640.6 L1624.4 692.8" fill="none" stroke="#000" stroke-width="3.6" stroke-linejoin="miter" stroke-linecap="butt" stroke-dasharray="3.6 3.4"/>
<g clip-path="url(#cBL)">
<rect x="1192.8" y="700.3" width="212.9" height="159.5" fill="#cbbfc0" stroke="none" stroke-width="1"/>
<rect x="1192.8" y="700.3" width="212.9" height="159.5" filter="url(#grP2)"/>
<g filter="url(#sb2)">
<circle cx="1294.9" cy="724.2" r="9.5" fill="#7a8cc2" opacity="0.75"/>
<circle cx="1381.8" cy="741.1" r="10.5" fill="#6476b6" opacity="0.8"/>
<circle cx="1210.3" cy="703.9" r="7.5" fill="#7a8ec8" opacity="0.75"/>
<circle cx="1291.5" cy="702.2" r="5.0" fill="#7a92cc" opacity="0.7"/>
<circle cx="1311.8" cy="771.6" r="5.0" fill="#6f83b8" opacity="0.65"/>
<circle cx="1238.5" cy="790.8" r="5.5" fill="#5f78bc" opacity="0.8"/>
<circle cx="1319.7" cy="791.9" r="7.0" fill="#8a9acb" opacity="0.6"/>
<circle cx="1249.8" cy="802.0" r="6.0" fill="#90a0cf" opacity="0.55"/>
<circle cx="1246.4" cy="815.6" r="6.0" fill="#7890cc" opacity="0.75"/>
<circle cx="1391.9" cy="791.9" r="8.0" fill="#9aa6cf" opacity="0.55"/>
<circle cx="1218.2" cy="849.4" r="9.0" fill="#6d86c6" opacity="0.85"/>
<circle cx="1358.1" cy="852.8" r="7.0" fill="#6f88c8" opacity="0.75"/>
<circle cx="1278.0" cy="853.9" r="5.0" fill="#a7b0d0" opacity="0.4"/>
<circle cx="1196.8" cy="852.8" r="5.0" fill="#a7b0d0" opacity="0.45"/>
<circle cx="1294.9" cy="724.2" r="4.5" fill="#4b66b6" opacity="0.9"/>
<circle cx="1381.8" cy="741.1" r="5.5" fill="#4560ae" opacity="0.8"/>
<circle cx="1218.2" cy="849.4" r="4.0" fill="#2d4fae" opacity="0.9"/>
<circle cx="1358.1" cy="852.8" r="3.0" fill="#4a68b8" opacity="0.8"/>
<circle cx="1210.3" cy="702.8" r="3.0" fill="#5a78c0" opacity="0.8"/>
<ellipse cx="1230.0" cy="740.6" rx="2.6" ry="4.6" fill="#1c3f9e" opacity="0.92" transform="rotate(10 1230.0 740.6)"/>
<ellipse cx="1328.8" cy="805.4" rx="3.2" ry="6.0" fill="#2458c4" opacity="0.92" transform="rotate(30 1328.8 805.4)"/>
<ellipse cx="1319.7" cy="820.1" rx="3.6" ry="7.0" fill="#2450b4" opacity="0.92" transform="rotate(45 1319.7 820.1)"/>
<ellipse cx="1347.9" cy="709.0" rx="3.5" ry="4.5" fill="#4a70c0" opacity="0.92" transform="rotate(60 1347.9 709.0)"/>
<ellipse cx="1355.8" cy="712.9" rx="3.0" ry="4.0" fill="#4a66b0" opacity="0.92" transform="rotate(20 1355.8 712.9)"/>
<ellipse cx="1238.5" cy="789.1" rx="3.0" ry="3.5" fill="#3f60b4" opacity="0.92"/>
<circle cx="1220.5" cy="727.6" r="5.0" fill="#b89070" opacity="0.35"/>
<circle cx="1310.7" cy="763.7" r="5.0" fill="#b89070" opacity="0.35"/>
<circle cx="1259.9" cy="775.0" r="5.0" fill="#b89070" opacity="0.35"/>
<circle cx="1253.2" cy="846.0" r="5.0" fill="#b89070" opacity="0.35"/>
<circle cx="1208.1" cy="814.5" r="5.0" fill="#b89070" opacity="0.35"/>
</g>
</g>
<rect x="1352.1" y="836.8" width="43" height="5.0" fill="#000" stroke="none" stroke-width="1"/>
<g clip-path="url(#cBR)">
<rect x="1412.5" y="700.3" width="212.7" height="159.5" fill="#c4a48e" stroke="none" stroke-width="1"/>
<rect x="1412.5" y="700.3" width="212.7" height="159.5" filter="url(#grT2)"/>
<g filter="url(#sb3)">
<ellipse cx="1436.2" cy="712.9" rx="10.0" ry="8.0" fill="#ad6f38" opacity="0.65" transform="rotate(40.807054688588785 1436.2 712.9)"/>
<ellipse cx="1419.3" cy="759.2" rx="10.0" ry="8.0" fill="#ad6f38" opacity="0.65" transform="rotate(173.21310645018892 1419.3 759.2)"/>
<ellipse cx="1462.2" cy="765.9" rx="10.0" ry="8.0" fill="#ad6f38" opacity="0.65" transform="rotate(22.73956175715472 1462.2 765.9)"/>
<ellipse cx="1441.8" cy="797.5" rx="10.0" ry="8.0" fill="#ad6f38" opacity="0.65" transform="rotate(126.86704611688943 1441.8 797.5)"/>
<ellipse cx="1464.4" cy="820.1" rx="10.0" ry="8.0" fill="#ad6f38" opacity="0.65" transform="rotate(15.33334824913548 1464.4 820.1)"/>
<ellipse cx="1537.7" cy="707.3" rx="10.0" ry="8.0" fill="#ad6f38" opacity="0.65" transform="rotate(44.53937728723531 1537.7 707.3)"/>
<ellipse cx="1571.6" cy="705.0" rx="10.0" ry="8.0" fill="#ad6f38" opacity="0.65" transform="rotate(179.84313704926421 1571.6 705.0)"/>
<ellipse cx="1501.6" cy="746.8" rx="10.0" ry="8.0" fill="#ad6f38" opacity="0.65" transform="rotate(37.6915737400043 1501.6 746.8)"/>
<ellipse cx="1503.9" cy="775.0" rx="10.0" ry="8.0" fill="#ad6f38" opacity="0.65" transform="rotate(115.53631831297926 1503.9 775.0)"/>
<ellipse cx="1532.1" cy="738.9" rx="10.0" ry="8.0" fill="#ad6f38" opacity="0.65" transform="rotate(82.64407729903141 1532.1 738.9)"/>
<ellipse cx="1584.0" cy="741.1" rx="10.0" ry="8.0" fill="#ad6f38" opacity="0.65" transform="rotate(81.56383760486571 1584.0 741.1)"/>
<ellipse cx="1554.7" cy="791.9" rx="10.0" ry="8.0" fill="#ad6f38" opacity="0.65" transform="rotate(89.09688490005199 1554.7 791.9)"/>
<ellipse cx="1428.3" cy="729.8" rx="10.0" ry="8.0" fill="#ad6f38" opacity="0.65" transform="rotate(34.60155160368279 1428.3 729.8)"/>
<ellipse cx="1520.8" cy="795.3" rx="10.0" ry="8.0" fill="#ad6f38" opacity="0.65" transform="rotate(149.4938292539349 1520.8 795.3)"/>
<ellipse cx="1620.1" cy="710.7" rx="8.0" ry="9.0" fill="#a45a1e" opacity="0.9"/>
</g>
<g filter="url(#sb2)">
<ellipse cx="1471.2" cy="708.4" rx="6.3" ry="5.6" fill="#efe9e6" opacity="0.85" transform="rotate(3.598435120352539 1471.2 708.4)"/>
<ellipse cx="1477.9" cy="734.4" rx="6.8" ry="6.0" fill="#efe9e6" opacity="0.85" transform="rotate(162.3715740740931 1477.9 734.4)"/>
<ellipse cx="1468.9" cy="754.7" rx="7.1" ry="5.3" fill="#efe9e6" opacity="0.85" transform="rotate(46.50420708574429 1468.9 754.7)"/>
<ellipse cx="1452.0" cy="784.0" rx="9.0" ry="5.2" fill="#efe9e6" opacity="0.85" transform="rotate(111.63023314860315 1452.0 784.0)"/>
<ellipse cx="1430.6" cy="817.8" rx="7.1" ry="6.7" fill="#efe9e6" opacity="0.85" transform="rotate(60.918945686485266 1430.6 817.8)"/>
<ellipse cx="1484.7" cy="821.2" rx="8.1" ry="6.2" fill="#efe9e6" opacity="0.85" transform="rotate(116.94984579850737 1484.7 821.2)"/>
<ellipse cx="1546.8" cy="726.5" rx="8.7" ry="6.5" fill="#efe9e6" opacity="0.85" transform="rotate(25.584836223788354 1546.8 726.5)"/>
<ellipse cx="1608.8" cy="723.1" rx="6.2" ry="7.4" fill="#efe9e6" opacity="0.85" transform="rotate(87.96002944057848 1608.8 723.1)"/>
<ellipse cx="1590.8" cy="806.6" rx="6.6" ry="7.4" fill="#efe9e6" opacity="0.85" transform="rotate(104.2131214002324 1590.8 806.6)"/>
<ellipse cx="1532.1" cy="820.1" rx="8.2" ry="7.2" fill="#efe9e6" opacity="0.85" transform="rotate(51.417581441384634 1532.1 820.1)"/>
<ellipse cx="1512.9" cy="791.9" rx="7.1" ry="7.2" fill="#efe9e6" opacity="0.85" transform="rotate(24.295631859406484 1512.9 791.9)"/>
<ellipse cx="1537.7" cy="759.2" rx="8.3" ry="5.2" fill="#efe9e6" opacity="0.85" transform="rotate(124.23262638212437 1537.7 759.2)"/>
<ellipse cx="1619.0" cy="765.9" rx="8.1" ry="7.4" fill="#efe9e6" opacity="0.85" transform="rotate(151.82873389895067 1619.0 765.9)"/>
<ellipse cx="1422.7" cy="754.7" rx="7.5" ry="5.5" fill="#efe9e6" opacity="0.85" transform="rotate(27.028776288278646 1422.7 754.7)"/>
<ellipse cx="1512.9" cy="844.9" rx="7.6" ry="6.3" fill="#efe9e6" opacity="0.85" transform="rotate(12.855749766990296 1512.9 844.9)"/>
<ellipse cx="1563.7" cy="782.9" rx="8.7" ry="6.3" fill="#efe9e6" opacity="0.85" transform="rotate(126.2330597496663 1563.7 782.9)"/>
<ellipse cx="1493.7" cy="837.0" rx="6.7" ry="5.6" fill="#efe9e6" opacity="0.85" transform="rotate(2.1449119838118658 1493.7 837.0)"/>
<ellipse cx="1599.8" cy="733.2" rx="7.0" ry="5.7" fill="#efe9e6" opacity="0.85" transform="rotate(76.21233422949246 1599.8 733.2)"/>
<ellipse cx="1417.0" cy="803.2" rx="7.1" ry="7.1" fill="#efe9e6" opacity="0.85" transform="rotate(160.46418886665646 1417.0 803.2)"/>
<ellipse cx="1558.0" cy="808.8" rx="6.5" ry="6.0" fill="#efe9e6" opacity="0.85" transform="rotate(29.912697582378158 1558.0 808.8)"/>
<ellipse cx="1439.6" cy="702.8" rx="8.0" ry="7.4" fill="#22306e" opacity="0.8235886692125585" transform="rotate(28.921584293306278 1439.6 702.8)"/>
<ellipse cx="1457.6" cy="718.6" rx="6.5" ry="6.2" fill="#272f62" opacity="0.9270017432664587" transform="rotate(30.628263521512142 1457.6 718.6)"/>
<ellipse cx="1474.6" cy="712.9" rx="8.1" ry="6.6" fill="#37395f" opacity="0.8394653762684325" transform="rotate(73.28789245510903 1474.6 712.9)"/>
<ellipse cx="1492.6" cy="714.1" rx="7.6" ry="5.7" fill="#272f62" opacity="0.8604242017891865" transform="rotate(15.346057261364985 1492.6 714.1)"/>
<ellipse cx="1464.4" cy="738.9" rx="7.9" ry="5.8" fill="#272f62" opacity="0.8938197650791924" transform="rotate(168.56314995055044 1464.4 738.9)"/>
<ellipse cx="1429.4" cy="746.8" rx="7.8" ry="5.6" fill="#37395f" opacity="0.9572100189672563" transform="rotate(3.049593748678874 1429.4 746.8)"/>
<ellipse cx="1446.9" cy="764.8" rx="7.1" ry="5.7" fill="#2f3562" opacity="0.912149021180823" transform="rotate(53.8939762358365 1446.9 764.8)"/>
<ellipse cx="1419.3" cy="784.0" rx="8.2" ry="7.2" fill="#232c68" opacity="0.8204116255821176" transform="rotate(37.81474970966484 1419.3 784.0)"/>
<ellipse cx="1455.4" cy="795.3" rx="6.6" ry="7.0" fill="#2c3260" opacity="0.9551227948192245" transform="rotate(178.28277712284702 1455.4 795.3)"/>
<ellipse cx="1476.8" cy="781.7" rx="6.8" ry="6.4" fill="#2c3260" opacity="0.8672531394346179" transform="rotate(21.77122648808259 1476.8 781.7)"/>
<ellipse cx="1480.8" cy="798.1" rx="7.6" ry="6.4" fill="#2f3562" opacity="0.8896091269969415" transform="rotate(27.81350619044749 1480.8 798.1)"/>
<ellipse cx="1458.8" cy="812.2" rx="6.7" ry="6.8" fill="#272f62" opacity="0.9209345849109924" transform="rotate(129.48234259416947 1458.8 812.2)"/>
<ellipse cx="1448.6" cy="840.4" rx="7.8" ry="6.4" fill="#2c3260" opacity="0.9201685162633195" transform="rotate(70.87552627148516 1448.6 840.4)"/>
<ellipse cx="1464.4" cy="842.7" rx="7.3" ry="5.6" fill="#232c68" opacity="0.8271296693954688" transform="rotate(20.05118086541405 1464.4 842.7)"/>
<ellipse cx="1424.9" cy="852.8" rx="7.8" ry="6.7" fill="#2f3562" opacity="0.9191649569875784" transform="rotate(4.0711355055736735 1424.9 852.8)"/>
<ellipse cx="1446.4" cy="853.9" rx="8.0" ry="7.5" fill="#232c68" opacity="0.8939030767460688" transform="rotate(134.81401932249673 1446.4 853.9)"/>
<ellipse cx="1511.8" cy="826.9" rx="7.4" ry="5.9" fill="#2c3260" opacity="0.918723908809247" transform="rotate(41.2981898958951 1511.8 826.9)"/>
<ellipse cx="1518.6" cy="813.3" rx="7.2" ry="5.9" fill="#2c3260" opacity="0.8927711901859793" transform="rotate(52.12045304753173 1518.6 813.3)"/>
<ellipse cx="1531.5" cy="827.4" rx="8.1" ry="7.4" fill="#232c68" opacity="0.924060598201634" transform="rotate(176.71157473712262 1531.5 827.4)"/>
<ellipse cx="1534.4" cy="803.2" rx="7.6" ry="6.3" fill="#2f3562" opacity="0.8311469961451545" transform="rotate(133.96085371424013 1534.4 803.2)"/>
<ellipse cx="1544.5" cy="749.0" rx="8.2" ry="6.5" fill="#343456" opacity="0.9390675546595153" transform="rotate(112.52018741984551 1544.5 749.0)"/>
<ellipse cx="1547.9" cy="765.9" rx="7.9" ry="7.2" fill="#232c68" opacity="0.8614157819091801" transform="rotate(35.233392323092254 1547.9 765.9)"/>
<ellipse cx="1562.6" cy="765.9" rx="7.2" ry="7.3" fill="#232c68" opacity="0.9018957202031296" transform="rotate(36.944940479763986 1562.6 765.9)"/>
<ellipse cx="1550.1" cy="814.5" rx="7.6" ry="6.9" fill="#37395f" opacity="0.937969276224489" transform="rotate(168.48881680007287 1550.1 814.5)"/>
<ellipse cx="1549.0" cy="839.3" rx="7.1" ry="6.7" fill="#22306e" opacity="0.9146426186315059" transform="rotate(121.15663034431836 1549.0 839.3)"/>
<ellipse cx="1570.5" cy="738.9" rx="7.4" ry="7.2" fill="#2f3562" opacity="0.8940507263766584" transform="rotate(48.39222348794723 1570.5 738.9)"/>
<ellipse cx="1577.2" cy="723.1" rx="7.4" ry="7.5" fill="#272f62" opacity="0.9412966088795935" transform="rotate(140.4113783021841 1577.2 723.1)"/>
<ellipse cx="1558.0" cy="708.4" rx="8.0" ry="6.1" fill="#2c3260" opacity="0.8583521137993226" transform="rotate(144.7603813451358 1558.0 708.4)"/>
<ellipse cx="1584.0" cy="747.9" rx="7.0" ry="6.8" fill="#2c3260" opacity="0.959337816420016" transform="rotate(44.01675898615188 1584.0 747.9)"/>
<ellipse cx="1594.1" cy="762.6" rx="8.2" ry="7.0" fill="#2f3562" opacity="0.930622769822628" transform="rotate(44.981817619215946 1594.1 762.6)"/>
<ellipse cx="1598.7" cy="786.3" rx="8.0" ry="5.9" fill="#343456" opacity="0.8935344171238055" transform="rotate(89.39671457214605 1598.7 786.3)"/>
<ellipse cx="1609.9" cy="795.3" rx="7.9" ry="6.8" fill="#272f62" opacity="0.8743116758152197" transform="rotate(140.44322477291487 1609.9 795.3)"/>
<ellipse cx="1577.2" cy="813.3" rx="8.2" ry="5.8" fill="#37395f" opacity="0.9300749303953051" transform="rotate(109.85145296472155 1577.2 813.3)"/>
<ellipse cx="1590.8" cy="815.6" rx="7.0" ry="6.4" fill="#22306e" opacity="0.8333610101400072" transform="rotate(120.45885967446262 1590.8 815.6)"/>
<ellipse cx="1615.6" cy="820.1" rx="8.2" ry="6.7" fill="#232c68" opacity="0.8329776075310078" transform="rotate(155.70187521375155 1615.6 820.1)"/>
<ellipse cx="1593.0" cy="834.8" rx="6.6" ry="7.2" fill="#22306e" opacity="0.9306852363453773" transform="rotate(15.11184569174289 1593.0 834.8)"/>
<ellipse cx="1573.8" cy="853.9" rx="7.7" ry="7.2" fill="#2f3562" opacity="0.8712749594397246" transform="rotate(146.66478247591735 1573.8 853.9)"/>
<ellipse cx="1556.9" cy="850.6" rx="6.6" ry="5.9" fill="#22306e" opacity="0.9306376679591926" transform="rotate(133.9298017647002 1556.9 850.6)"/>
<ellipse cx="1586.2" cy="847.2" rx="6.6" ry="7.3" fill="#232c68" opacity="0.9460166652199564" transform="rotate(109.71569182461793 1586.2 847.2)"/>
<ellipse cx="1520.8" cy="855.1" rx="6.8" ry="6.3" fill="#37395f" opacity="0.8556880163036048" transform="rotate(77.62057238074381 1520.8 855.1)"/>
<ellipse cx="1503.9" cy="857.3" rx="6.6" ry="5.7" fill="#343456" opacity="0.8948248916206096" transform="rotate(166.5054512903326 1503.9 857.3)"/>
<ellipse cx="1595.3" cy="703.9" rx="7.8" ry="5.6" fill="#232c68" opacity="0.8352613900033592" transform="rotate(100.0535816070249 1595.3 703.9)"/>
<ellipse cx="1532.1" cy="724.2" rx="6.8" ry="6.8" fill="#22306e" opacity="0.843903009282998" transform="rotate(53.17257671611144 1532.1 724.2)"/>
</g>
</g>
<rect x="1569.6" y="838.4" width="45.8" height="4.9" fill="#000" stroke="none" stroke-width="1"/>
<line x1="1736.5" y1="559.3" x2="1736.5" y2="819" stroke="#000" stroke-width="2" stroke-linecap="butt"/>
<line x1="1729.5" y1="818" x2="1950" y2="818" stroke="#000" stroke-width="2" stroke-linecap="butt"/>
<line x1="1729.5" y1="818.0" x2="1736.5" y2="818.0" stroke="#000" stroke-width="2" stroke-linecap="butt"/>
<text x="1728" y="827.3" font-size="26" text-anchor="end" font-weight="normal" font-style="normal" fill="#000" stroke="#000" stroke-width="0.3">0</text>
<line x1="1729.5" y1="732.1" x2="1736.5" y2="732.1" stroke="#000" stroke-width="2" stroke-linecap="butt"/>
<text x="1728" y="741.4" font-size="26" text-anchor="end" font-weight="normal" font-style="normal" fill="#000" stroke="#000" stroke-width="0.3">5</text>
<line x1="1729.5" y1="646.2" x2="1736.5" y2="646.2" stroke="#000" stroke-width="2" stroke-linecap="butt"/>
<text x="1728" y="655.5" font-size="26" text-anchor="end" font-weight="normal" font-style="normal" fill="#000" stroke="#000" stroke-width="0.3">10</text>
<line x1="1729.5" y1="560.3" x2="1736.5" y2="560.3" stroke="#000" stroke-width="2" stroke-linecap="butt"/>
<text x="1728" y="569.5999999999999" font-size="26" text-anchor="end" font-weight="normal" font-style="normal" fill="#000" stroke="#000" stroke-width="0.3">15</text>
<text x="1681" y="685" font-size="29.8" text-anchor="middle" font-weight="normal" font-style="normal" fill="#000" transform="rotate(-90 1681 685)" stroke="#000" stroke-width="0.3">IHC score of TEFM</text>
<line x1="1789" y1="676" x2="1789" y2="825" stroke="#000" stroke-width="2.1" stroke-linecap="butt"/>
<line x1="1776" y1="676" x2="1803" y2="676" stroke="#000" stroke-width="2.1" stroke-linecap="butt"/>
<rect x="1762.6" y="708" width="53.40000000000009" height="77" fill="#0000ff" stroke="#000" stroke-width="2.2"/>
<line x1="1762.6" y1="745" x2="1816" y2="745" stroke="#000" stroke-width="2.2" stroke-linecap="butt"/>
<line x1="1895.7" y1="612.6" x2="1895.7" y2="825" stroke="#000" stroke-width="2.1" stroke-linecap="butt"/>
<line x1="1883" y1="612.6" x2="1909" y2="612.6" stroke="#000" stroke-width="2.1" stroke-linecap="butt"/>
<rect x="1869.4" y="654.5" width="52.59999999999991" height="105.5" fill="#ff0000" stroke="#000" stroke-width="2.2"/>
<line x1="1869.4" y1="705.4" x2="1922" y2="705.4" stroke="#000" stroke-width="2.2" stroke-linecap="butt"/>
<path d="M1789 604.3 V593 H1896 V604.3" fill="none" stroke="#000" stroke-width="2.3" stroke-linejoin="miter" stroke-linecap="butt"/>
<text x="1840.3" y="597.5" font-size="31" text-anchor="middle" font-weight="normal" font-style="normal" fill="#000" stroke="#000" stroke-width="0.35">*</text>
<text x="1777.3" y="858.3" font-size="30.1" text-anchor="middle" font-weight="normal" font-style="normal" fill="#000" stroke="#000" stroke-width="0.3">Peritumor</text>
<text x="1898.5" y="858.3" font-size="30.1" text-anchor="middle" font-weight="normal" font-style="normal" fill="#000" stroke="#000" stroke-width="0.3">Tumor</text>
<text x="-0.5" y="987" font-size="33.5" text-anchor="start" font-weight="bold" font-style="normal" fill="#000">G</text>
<rect x="154.5" y="1030.5" width="347.0" height="420.20000000000005" fill="#f0f0f0" stroke="#646464" stroke-width="1.3"/>
<line x1="142.0" y1="1429.7" x2="154.5" y2="1429.7" stroke="#555" stroke-width="1.2" stroke-linecap="butt"/>
<text x="141.0" y="1436.6000000000001" font-size="19.4" text-anchor="end" font-weight="normal" font-style="normal" fill="#222">0.0</text>
<line x1="142.0" y1="1353.9" x2="154.5" y2="1353.9" stroke="#555" stroke-width="1.2" stroke-linecap="butt"/>
<text x="141.0" y="1360.8000000000002" font-size="19.4" text-anchor="end" font-weight="normal" font-style="normal" fill="#222">0.2</text>
<line x1="142.0" y1="1278.1000000000001" x2="154.5" y2="1278.1000000000001" stroke="#555" stroke-width="1.2" stroke-linecap="butt"/>
<text x="141.0" y="1285.0000000000002" font-size="19.4" text-anchor="end" font-weight="normal" font-style="normal" fill="#222">0.4</text>
<line x1="142.0" y1="1202.3000000000002" x2="154.5" y2="1202.3000000000002" stroke="#555" stroke-width="1.2" stroke-linecap="butt"/>
<text x="141.0" y="1209.2000000000003" font-size="19.4" text-anchor="end" font-weight="normal" font-style="normal" fill="#222">0.6</text>
<line x1="142.0" y1="1126.5" x2="154.5" y2="1126.5" stroke="#555" stroke-width="1.2" stroke-linecap="butt"/>
<text x="141.0" y="1133.4" font-size="19.4" text-anchor="end" font-weight="normal" font-style="normal" fill="#222">0.8</text>
<line x1="142.0" y1="1050.7" x2="154.5" y2="1050.7" stroke="#555" stroke-width="1.2" stroke-linecap="butt"/>
<text x="141.0" y="1057.6000000000001" font-size="19.4" text-anchor="end" font-weight="normal" font-style="normal" fill="#222">1.0</text>
<line x1="171.3" y1="1450.7" x2="171.3" y2="1462.7" stroke="#555" stroke-width="1.2" stroke-linecap="butt"/>
<text x="171.3" y="1480.7" font-size="19.4" text-anchor="middle" font-weight="normal" font-style="normal" fill="#222">0</text>
<line x1="233.86" y1="1450.7" x2="233.86" y2="1462.7" stroke="#555" stroke-width="1.2" stroke-linecap="butt"/>
<text x="233.86" y="1480.7" font-size="19.4" text-anchor="middle" font-weight="normal" font-style="normal" fill="#222">20</text>
<line x1="296.42" y1="1450.7" x2="296.42" y2="1462.7" stroke="#555" stroke-width="1.2" stroke-linecap="butt"/>
<text x="296.42" y="1480.7" font-size="19.4" text-anchor="middle" font-weight="normal" font-style="normal" fill="#222">40</text>
<line x1="358.98" y1="1450.7" x2="358.98" y2="1462.7" stroke="#555" stroke-width="1.2" stroke-linecap="butt"/>
<text x="358.98" y="1480.7" font-size="19.4" text-anchor="middle" font-weight="normal" font-style="normal" fill="#222">60</text>
<line x1="421.54" y1="1450.7" x2="421.54" y2="1462.7" stroke="#555" stroke-width="1.2" stroke-linecap="butt"/>
<text x="421.54" y="1480.7" font-size="19.4" text-anchor="middle" font-weight="normal" font-style="normal" fill="#222">80</text>
<line x1="484.1" y1="1450.7" x2="484.1" y2="1462.7" stroke="#555" stroke-width="1.2" stroke-linecap="butt"/>
<text x="484.1" y="1480.7" font-size="19.4" text-anchor="middle" font-weight="normal" font-style="normal" fill="#222">100</text>
<path d="M171.8 1050.7 H179.5 V1050.7 H182.3 V1061.4 H185.1 V1072.5 H187.8 V1083.5 H189.7 V1100.2 H193.4 V1111.2 H198.0 V1120.5 H201.7 V1129.7 H203.5 V1140.8 H207.2 V1147.2 H210.9 V1154.6 H218.3 V1158.3 H222.9 V1166.1 H227.5 V1172.2 H230.3 V1183.2 H240.5 V1184.2 H246.0 V1187.8 H258.9 V1187.8 H259.8 V1209.1 H276.5 V1209.1 H277.4 V1220.2 H282.9 V1225.7 H284.8 V1231.2 H299.9 V1231.2 H301.4 V1248.8 H334.6 V1248.8 H336.5 V1254.3 H342.0 V1259.8 H342.0 V1269.4 H358.6 V1269.4 H359.5 V1285.7 H436.2 V1285.7" fill="none" stroke="#000" stroke-width="2.9" stroke-linejoin="miter" stroke-linecap="butt" stroke-dasharray="5.8 4.3"/>
<path d="M171.8 1050.7 H179.5 V1050.7 H180.5 V1055.8 H182.3 V1061.4 H184.2 V1066.9 H186.0 V1073.4 H192.8 V1073.4 H194.3 V1081.7 H196.2 V1089.1 H198.0 V1094.6 H203.9 V1094.6 H205.4 V1100.2 H209.1 V1105.7 H221.1 V1105.7 H222.9 V1110.3 H225.7 V1115.8 H231.2 V1115.8 H231.2 V1120.8 H251.9 V1120.8 H251.9 V1125.4 H260.8 V1125.4 H260.8 V1130.6 H265.4 V1130.6 H265.4 V1135.2 H294.0 V1135.2 H294.0 V1142.2 H326.3 V1142.2 H326.3 V1150.9 H354.0 V1150.9 H354.0 V1161.4 H398.9 V1161.4" fill="none" stroke="#000" stroke-width="2.6" stroke-linejoin="miter" stroke-linecap="butt"/>
<text x="238.3" y="1109" font-size="27.35" text-anchor="start" font-weight="normal" font-style="normal" fill="#000" stroke="#000" stroke-width="0.3">Low TEFM (n=102)</text>
<text x="172.3" y="1318.5" font-size="27.35" text-anchor="start" font-weight="normal" font-style="normal" fill="#000" stroke="#000" stroke-width="0.3">High TEFM (n=107)</text>
<text x="167" y="1432.3" font-size="27" stroke="#000" stroke-width="0.3"><tspan font-style="italic">p</tspan></text>
<text x="0" y="0" font-size="27" transform="translate(184.8 1433.6) scale(1.38 1.22)" font-family="&quot;DejaVu Sans&quot;, sans-serif" font-weight="200">&lt;</text>
<text x="209.3" y="1432.5" font-size="26.5" text-anchor="start" font-weight="normal" font-style="normal" fill="#000" stroke="#000" stroke-width="0.3">0.001</text>
<text x="323.6" y="1517.4" font-size="31.2" text-anchor="middle" font-weight="normal" font-style="normal" fill="#000" stroke="#000" stroke-width="0.3">Time (Month)</text>
<text x="75.6" y="1232" font-size="30.7" text-anchor="middle" font-weight="normal" font-style="normal" fill="#000" transform="rotate(-90 75.6 1232)" stroke="#000" stroke-width="0.3">Overall survival</text>
<text x="574.5" y="987" font-size="33.5" text-anchor="start" font-weight="bold" font-style="normal" fill="#000">H</text>
<rect x="741.5" y="1029.5" width="340.79999999999995" height="420.79999999999995" fill="#f0f0f0" stroke="#646464" stroke-width="1.3"/>
<line x1="729.0" y1="1429.5" x2="741.5" y2="1429.5" stroke="#555" stroke-width="1.2" stroke-linecap="butt"/>
<text x="728.0" y="1436.4" font-size="19.4" text-anchor="end" font-weight="normal" font-style="normal" fill="#222">0.0</text>
<line x1="729.0" y1="1353.75" x2="741.5" y2="1353.75" stroke="#555" stroke-width="1.2" stroke-linecap="butt"/>
<text x="728.0" y="1360.65" font-size="19.4" text-anchor="end" font-weight="normal" font-style="normal" fill="#222">0.2</text>
<line x1="729.0" y1="1278.0" x2="741.5" y2="1278.0" stroke="#555" stroke-width="1.2" stroke-linecap="butt"/>
<text x="728.0" y="1284.9" font-size="19.4" text-anchor="end" font-weight="normal" font-style="normal" fill="#222">0.4</text>
<line x1="729.0" y1="1202.25" x2="741.5" y2="1202.25" stroke="#555" stroke-width="1.2" stroke-linecap="butt"/>
<text x="728.0" y="1209.15" font-size="19.4" text-anchor="end" font-weight="normal" font-style="normal" fill="#222">0.6</text>
<line x1="729.0" y1="1126.5" x2="741.5" y2="1126.5" stroke="#555" stroke-width="1.2" stroke-linecap="butt"/>
<text x="728.0" y="1133.4" font-size="19.4" text-anchor="end" font-weight="normal" font-style="normal" fill="#222">0.8</text>
<line x1="729.0" y1="1050.75" x2="741.5" y2="1050.75" stroke="#555" stroke-width="1.2" stroke-linecap="butt"/>
<text x="728.0" y="1057.65" font-size="19.4" text-anchor="end" font-weight="normal" font-style="normal" fill="#222">1.0</text>
<line x1="758.5" y1="1450.3" x2="758.5" y2="1462.3" stroke="#555" stroke-width="1.2" stroke-linecap="butt"/>
<text x="758.5" y="1480.3" font-size="19.4" text-anchor="middle" font-weight="normal" font-style="normal" fill="#222">0</text>
<line x1="835.1" y1="1450.3" x2="835.1" y2="1462.3" stroke="#555" stroke-width="1.2" stroke-linecap="butt"/>
<text x="835.1" y="1480.3" font-size="19.4" text-anchor="middle" font-weight="normal" font-style="normal" fill="#222">20</text>
<line x1="911.7" y1="1450.3" x2="911.7" y2="1462.3" stroke="#555" stroke-width="1.2" stroke-linecap="butt"/>
<text x="911.7" y="1480.3" font-size="19.4" text-anchor="middle" font-weight="normal" font-style="normal" fill="#222">40</text>
<line x1="988.3" y1="1450.3" x2="988.3" y2="1462.3" stroke="#555" stroke-width="1.2" stroke-linecap="butt"/>
<text x="988.3" y="1480.3" font-size="19.4" text-anchor="middle" font-weight="normal" font-style="normal" fill="#222">60</text>
<line x1="1064.9" y1="1450.3" x2="1064.9" y2="1462.3" stroke="#555" stroke-width="1.2" stroke-linecap="butt"/>
<text x="1064.9" y="1480.3" font-size="19.4" text-anchor="middle" font-weight="normal" font-style="normal" fill="#222">80</text>
<path d="M758.6 1049.4 H762.7 V1049.4 H763.6 V1076.2 H766.4 V1092.8 H768.2 V1107.5 H769.2 V1126.0 H770.1 V1144.5 H773.8 V1145.4 H773.8 V1157.4 H777.1 V1162.9 H777.8 V1177.7 H778.9 V1192.5 H782.6 V1203.5 H784.8 V1212.8 H788.5 V1222.0 H795.9 V1225.3 H799.6 V1232.2 H808.8 V1235.8 H811.6 V1246.0 H816.2 V1253.4 H819.9 V1261.7 H827.3 V1264.8 H835.6 V1268.2 H844.8 V1270.9 H847.6 V1279.2 H850.4 V1285.7 H857.8 V1287.5 H864.2 V1294.9 H877.2 V1294.9 H880.8 V1301.0 H891.0 V1301.4 H892.8 V1308.8 H938.1 V1308.8 H940.5 V1317.7 H984.1 V1317.7 H984.1 V1328.0 H988.0 V1336.9 H989.2 V1342.6 H1010.3 V1342.6 H1010.3 V1385.6" fill="none" stroke="#000" stroke-width="2.9" stroke-linejoin="miter" stroke-linecap="butt" stroke-dasharray="5.8 4.3"/>
<path d="M758.6 1049.4 H763.1 V1049.4 H763.1 V1066.9 H764.5 V1081.7 H767.3 V1094.6 H771.0 V1105.7 H774.7 V1118.6 H778.4 V1120.5 H780.2 V1126.4 H790.0 V1126.4 H790.8 V1138.0 H798.7 V1138.0 H800.5 V1142.6 H804.2 V1146.3 H807.0 V1155.5 H809.8 V1160.5 H817.7 V1160.5 H819.0 V1166.6 H821.8 V1171.8 H829.2 V1171.8 H831.0 V1177.7 H833.8 V1186.9 H839.3 V1189.7 H841.2 V1201.7 H850.4 V1201.7 H851.3 V1204.5 H855.0 V1204.5 H855.9 V1213.1 H864.2 V1213.1 H865.2 V1217.4 H868.8 V1217.4 H868.8 V1221.6 H874.4 V1221.6 H874.4 V1230.9 H948.2 V1230.9 H948.2 V1238.2 H951.0 V1238.2 H951.0 V1252.5 H982.0 V1252.5 H982.0 V1262.2 H1036.8 V1262.2" fill="none" stroke="#000" stroke-width="2.6" stroke-linejoin="miter" stroke-linecap="butt"/>
<text x="844" y="1184.7" font-size="26.9" text-anchor="start" font-weight="normal" font-style="normal" fill="#000" stroke="#000" stroke-width="0.3">Low TEFM (n=102)</text>
<text x="745" y="1352.3" font-size="26.9" text-anchor="start" font-weight="normal" font-style="normal" fill="#000" stroke="#000" stroke-width="0.3">High TEFM (n=107)</text>
<text x="758.5" y="1434.4" font-size="26.4" stroke="#000" stroke-width="0.3"><tspan font-style="italic">p</tspan>=0.001</text>
<text x="900" y="1525.6" font-size="31" text-anchor="middle" font-weight="normal" font-style="normal" fill="#000" stroke="#000" stroke-width="0.3">Time (Month)</text>
<text x="659.7" y="1233.7" font-size="30.8" text-anchor="middle" font-weight="normal" font-style="normal" fill="#000" transform="rotate(-90 659.7 1233.7)" stroke="#000" stroke-width="0.3">Recurrence-free survival</text>
<text x="1152.5" y="987" font-size="33.5" text-anchor="start" font-weight="bold" font-style="normal" fill="#000">I</text>
<rect x="1244" y="1064.6" width="575" height="409.4" fill="#f8f8f8" stroke="none" stroke-width="1"/>
<line x1="1358.5" y1="1080" x2="1358.5" y2="1390" stroke="#7c7c7c" stroke-width="1" stroke-linecap="butt"/>
<line x1="1358" y1="1389.5" x2="1803.6" y2="1389.5" stroke="#7c7c7c" stroke-width="1" stroke-linecap="butt"/>
<line x1="1356.3" y1="1375.3" x2="1358.1" y2="1375.3" stroke="#7c7c7c" stroke-width="1" stroke-linecap="butt"/>
<text x="1355.4" y="1383.1" font-size="28.8" text-anchor="end" font-weight="normal" font-style="normal" fill="#000" stroke="#000" stroke-width="0.3">0.00</text>
<line x1="1356.3" y1="1304.95" x2="1358.1" y2="1304.95" stroke="#7c7c7c" stroke-width="1" stroke-linecap="butt"/>
<text x="1355.4" y="1312.7" font-size="28.8" text-anchor="end" font-weight="normal" font-style="normal" fill="#000" stroke="#000" stroke-width="0.3">0.25</text>
<line x1="1356.3" y1="1234.6" x2="1358.1" y2="1234.6" stroke="#7c7c7c" stroke-width="1" stroke-linecap="butt"/>
<text x="1355.4" y="1244.4" font-size="28.8" text-anchor="end" font-weight="normal" font-style="normal" fill="#000" stroke="#000" stroke-width="0.3">0.50</text>
<line x1="1356.3" y1="1164.25" x2="1358.1" y2="1164.25" stroke="#7c7c7c" stroke-width="1" stroke-linecap="butt"/>
<text x="1355.4" y="1173.6" font-size="28.8" text-anchor="end" font-weight="normal" font-style="normal" fill="#000" stroke="#000" stroke-width="0.3">0.75</text>
<line x1="1356.3" y1="1093.9" x2="1358.1" y2="1093.9" stroke="#7c7c7c" stroke-width="1" stroke-linecap="butt"/>
<text x="1355.4" y="1103.7" font-size="28.8" text-anchor="end" font-weight="normal" font-style="normal" fill="#000" stroke="#000" stroke-width="0.3">1.00</text>
<line x1="1378.2" y1="1389.1" x2="1378.2" y2="1391" stroke="#7c7c7c" stroke-width="1" stroke-linecap="butt"/>
<text x="1378.2" y="1417.6" font-size="28.6" text-anchor="middle" font-weight="normal" font-style="normal" fill="#000" stroke="#000" stroke-width="0.3">0</text>
<line x1="1488.6000000000001" y1="1389.1" x2="1488.6000000000001" y2="1391" stroke="#7c7c7c" stroke-width="1" stroke-linecap="butt"/>
<text x="1486.0" y="1417.6" font-size="28.6" text-anchor="middle" font-weight="normal" font-style="normal" fill="#000" stroke="#000" stroke-width="0.3">1000</text>
<line x1="1599.0" y1="1389.1" x2="1599.0" y2="1391" stroke="#7c7c7c" stroke-width="1" stroke-linecap="butt"/>
<text x="1598.2" y="1417.6" font-size="28.6" text-anchor="middle" font-weight="normal" font-style="normal" fill="#000" stroke="#000" stroke-width="0.3">2000</text>
<line x1="1709.4" y1="1389.1" x2="1709.4" y2="1391" stroke="#7c7c7c" stroke-width="1" stroke-linecap="butt"/>
<text x="1710.0" y="1417.6" font-size="28.6" text-anchor="middle" font-weight="normal" font-style="normal" fill="#000" stroke="#000" stroke-width="0.3">3000</text>
<text x="1555" y="1461.3" font-size="32.2" text-anchor="middle" font-weight="normal" font-style="normal" fill="#000" stroke="#000" stroke-width="0.3">Time in days</text>
<text x="1271" y="1233" font-size="32.8" text-anchor="middle" font-weight="normal" font-style="normal" fill="#000" transform="rotate(-90 1271 1233)" stroke="#000" stroke-width="0.3">Survival probability</text>
<path d="M1378.2 1093.1 L1380.2 1097.6 L1384.0 1100.7 H1385.2 V1107.7 L1387.7 1111.5 H1389.0 V1120.3 H1390.3 V1127.3 L1392.8 1130.3 L1395.3 1135.8 L1397.8 1139.1 L1400.3 1142.9 L1402.8 1146.6 L1406.6 1147.4 L1408.3 1152.9 L1410.4 1157.9 H1411.6 V1174.3 L1415.4 1175.0 L1417.9 1178.1 L1419.9 1180.6 L1422.9 1181.1 H1424.2 V1189.4 L1425.9 1193.1 H1449.3 V1193.1 L1451.1 1198.7 L1456.1 1198.7 H1456.8 V1205.7 L1458.6 1210.7 L1461.4 1211.2 H1462.6 V1222.0 H1476.9 V1222.0 H1477.7 V1228.8 L1488.3 1228.8 H1489.5 V1236.6 L1503.3 1236.6 H1504.1 V1245.9 H1505.3 V1254.2 H1532.2 V1254.2 H1532.7 V1264.0 L1542.3 1264.2 H1543.0 V1274.3 H1784.3 V1274.3" fill="none" stroke="#ea2c2c" stroke-width="1.25" stroke-linejoin="round" stroke-linecap="butt"/>
<path d="M1378.2 1093.1 H1381.5 V1100.2 H1386.5 V1107.7 L1391.5 1110.7 L1397.8 1112.2 L1402.8 1115.2 L1409.1 1120.3 L1415.4 1124.8 H1420.4 V1131.6 H1426.7 V1139.1 L1431.7 1142.9 L1435.5 1142.4 L1439.3 1145.4 L1443.0 1150.4 H1448.1 V1157.9 L1450.6 1163.5 L1455.6 1166.7 L1461.9 1167.5 L1464.4 1171.8 L1469.4 1175.5 H1471.9 V1181.8 L1479.5 1182.3 L1483.2 1184.3 H1498.3 V1184.3 L1500.8 1186.8 L1504.6 1186.8 L1505.8 1189.4 L1512.1 1190.6 L1515.9 1194.9 L1519.7 1196.9 L1528.5 1197.4 L1532.2 1203.2 L1536.0 1206.4 L1549.8 1206.4 L1552.3 1210.0 L1556.6 1210.0 L1557.4 1214.5 L1558.6 1217.8 L1563.6 1218.3 H1566.2 V1225.3 L1574.9 1225.8 L1576.2 1229.6 L1581.7 1230.1 L1583.2 1233.8 H1611.4 V1233.8 H1612.6 V1240.9 L1613.9 1244.6 H1649.1 V1244.6 H1650.3 V1255.9 L1652.8 1256.5 H1653.6 V1266.5 L1657.1 1267.3 H1657.9 V1278.6 H1659.1 V1291.1 H1723.2 V1291.1 H1723.2 V1312.5 H1737.8 V1312.5 H1737.8 V1333.1 H1762.2 V1333.1" fill="none" stroke="#2222e6" stroke-width="1.3" stroke-linejoin="round" stroke-linecap="butt"/>
<rect x="1501.4" y="1076.3" width="1.4" height="1.4" fill="#000" stroke="none" stroke-width="1"/>
<rect x="1611.3" y="1076.3" width="1.4" height="1.4" fill="#000" stroke="none" stroke-width="1"/>
<text x="1538.5" y="1191.4" font-size="29" text-anchor="start" font-weight="normal" font-style="normal" fill="#000" stroke="#000" stroke-width="0.3">TEFM Low/medium</text>
<text x="1664.7" y="1227" font-size="29" text-anchor="middle" font-weight="normal" font-style="normal" fill="#000" stroke="#000" stroke-width="0.3">(n=275)</text>
<text x="1386" y="1279.8" font-size="29" text-anchor="start" font-weight="normal" font-style="normal" fill="#000" stroke="#000" stroke-width="0.3">TEFM high</text>
<text x="1457.2" y="1315" font-size="29" text-anchor="middle" font-weight="normal" font-style="normal" fill="#000" stroke="#000" stroke-width="0.3">(n=90)</text>
<text x="1369.7" y="1376" font-size="28.8" stroke="#000" stroke-width="0.3"><tspan font-style="italic">p</tspan>=0.007</text>
</svg>
</body></html>
